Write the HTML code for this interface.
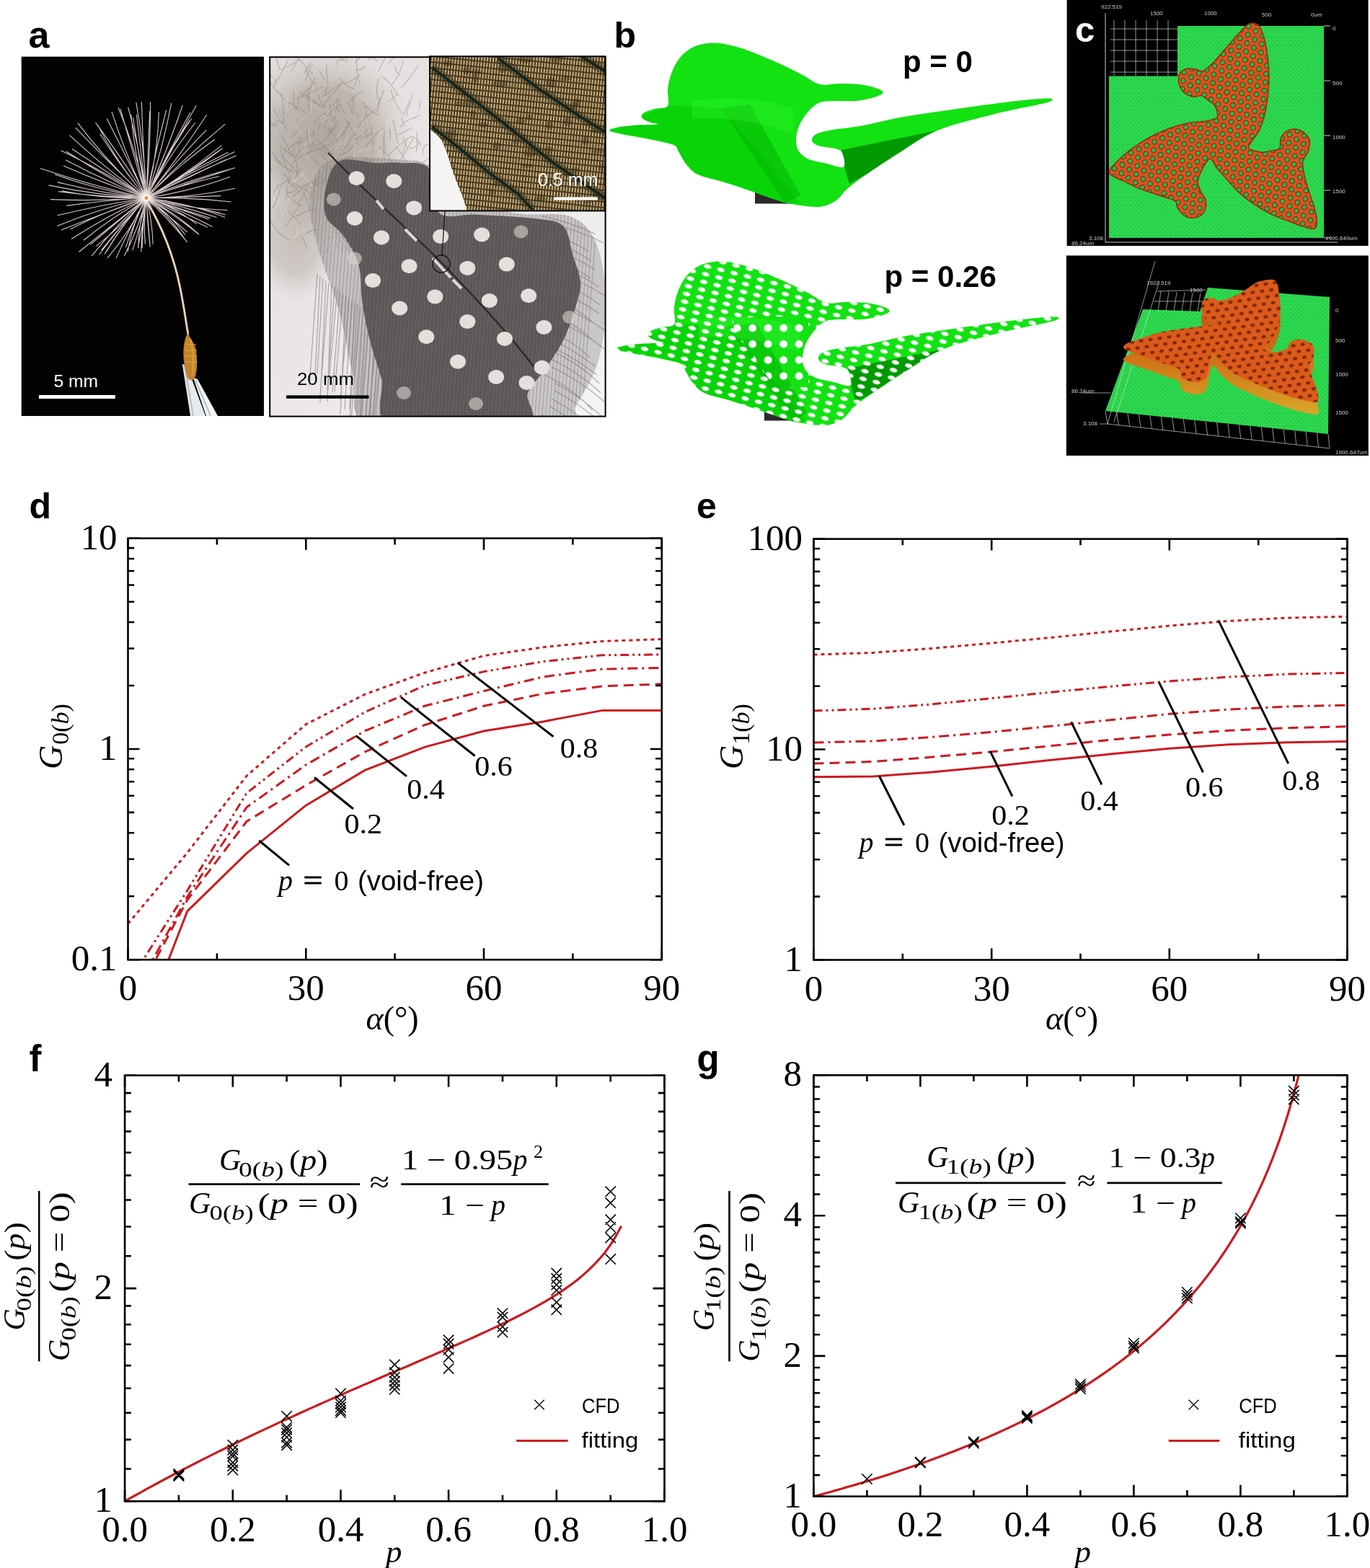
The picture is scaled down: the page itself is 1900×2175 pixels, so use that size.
<!DOCTYPE html><html><head><meta charset="utf-8"><style>html,body{margin:0;padding:0;background:#fff}svg{display:block}</style></head><body>
<svg width="1900" height="2175" viewBox="0 0 1900 2175">
<rect width="1900" height="2175" fill="#fff"/>
<rect x="29.7" y="78.6" width="336.3" height="498.4" fill="#020202"/>
<defs><radialGradient id="glow"><stop offset="0" stop-color="#fff8f0"/><stop offset="0.4" stop-color="#f0e4e0" stop-opacity="0.7"/><stop offset="1" stop-color="#000" stop-opacity="0"/></radialGradient></defs>
<path d="M203 274.5Q141.8 273.7 81.1 265.6M203 274.5Q134.5 271.1 67.4 256.9M203 274.5Q140.5 268.2 79.7 252.6M203 274.5Q138.1 264.4 76.3 242M203 274.5Q128.3 258 55.8 233.4M203 274.5Q144.6 254.6 88.1 229.9M203 274.5Q145.9 250.7 91.1 221.9M203 274.5Q145.5 238.5 84.5 208.8M203 274.5Q145.9 244.8 91.7 210M203 274.5Q151.5 240.5 99.9 206.5M203 274.5Q146.9 234.5 96.5 187.6M203 274.5Q152.3 227.4 104.7 177.2M203 274.5Q150.4 227 107.7 170.4M203 274.5Q168 232.2 138.7 185.8M203 274.5Q163.6 227.8 135.5 173.6M203 274.5Q170.4 220.5 132.5 170.1M203 274.5Q176.2 219.2 148.2 164.5M203 274.5Q174.9 216.3 154.9 154.8M203 274.5Q184.5 212.7 166.8 150.6M203 274.5Q189.3 210.1 164 149.3M203 274.5Q187 217.6 181.8 158.7M203 274.5Q194.7 210.7 177.6 148.7M203 274.5Q192.9 218.9 184.6 163M203 274.5Q196.1 216.7 189.4 158.9M203 274.5Q200.6 207.7 188.8 141.9M203 274.5Q198.1 208 196.3 141.3M203 274.5Q205.4 214.4 207.7 154.3M203 274.5Q208.5 208 208.6 141.4M203 274.5Q218.4 215.9 220.4 155.3M203 274.5Q214.7 213 230.6 152.5M203 274.5Q224.8 210 237.6 143.1M203 274.5Q230.8 211.5 253.2 146.3M203 274.5Q227.2 219.1 247.8 162.3M203 274.5Q236.4 209.8 272.2 146.3M203 274.5Q231.5 214.3 263.9 156.1M203 274.5Q227.9 217.5 263.7 166.5M203 274.5Q229.9 216.8 265.8 164.3M203 274.5Q232 219 271 170M203 274.5Q247.6 218.9 286.7 159.3M203 274.5Q242.1 225.2 286.3 180.4M203 274.5Q254.4 219.9 312.3 172.2M203 274.5Q246.7 229.4 298 193.2M203 274.5Q258 241.9 307.5 201.6M203 274.5Q258.6 244.5 308.6 205.8M203 274.5Q255.6 243.2 305.6 207.8M203 274.5Q262.8 239.7 325.4 210.4M203 274.5Q258.1 239.7 316.6 211.3M203 274.5Q264.1 242.5 327.7 215.7M203 274.5Q257.8 247.4 313.2 221.4M203 274.5Q262.8 249.1 325.8 232.8M203 274.5Q263.3 253.1 324.1 233.2M203 274.5Q252.6 256.3 304 244.5M203 274.5Q262.6 266.1 319.1 245.2M203 274.5Q265.2 274.4 325.9 261.2M203 274.5Q254.5 273.7 305.9 271.6M203 274.5Q262 273.7 320.7 280M203 274.5Q258.3 289.4 315.5 291.5M203 274.5Q258.5 283.6 313 298M203 274.5Q255 283.2 306.2 295.8M203 274.5Q259.2 281.2 312.1 301.4M203 274.5Q252.2 286.3 300.5 301.4M203 274.5Q246.6 289.1 289.9 304.3M203 274.5Q247.4 288.5 291.8 302.5M203 274.5Q250.5 290.7 294.6 314.6M203 274.5Q245.3 294.9 287.7 315.2M203 274.5Q241.2 286.6 272.9 310.9M203 274.5Q241.3 297.2 275.9 325.3M203 274.5Q242.4 294.7 275.3 324.4M203 274.5Q232.3 297.3 259.9 322.2M203 274.5Q234.4 295.4 256.9 325.6M203 274.5Q233.7 297.4 254.7 329.4M203 274.5Q233.3 303.3 259.6 335.8M203 274.5Q211.2 306.1 212.1 338.7M203 274.5Q204.2 306.9 207.8 339.1M203 274.5Q205.2 308.6 208.2 342.6M203 274.5Q198.7 306.5 201.4 338.6M203 274.5Q197.8 309.1 197.1 344.2M203 274.5Q196.4 311.8 195.8 349.6M203 274.5Q192.2 308.4 191.8 344M203 274.5Q198.7 309.1 191.4 343.2M203 274.5Q195.7 311.4 183.8 347.1M203 274.5Q183.7 309.4 177.1 348.8M203 274.5Q192.3 316.4 172.4 354.8M203 274.5Q185.7 307.7 174.3 343.3M203 274.5Q180.2 315.3 161.1 357.9M203 274.5Q181.3 319.8 148.9 358.1M203 274.5Q171.4 309.2 147.4 349.4M203 274.5Q169.7 310.3 145.1 352.6M203 274.5Q170.5 309.5 140.8 346.9M203 274.5Q167.7 311.9 137.3 353.5M203 274.5Q161.8 311.8 127 355.1M203 274.5Q171.6 311.6 133.3 341.4M203 274.5Q164 306.6 125.5 339.1M203 274.5Q156.1 312 109.3 349.5M203 274.5Q156.9 300 116 333.3M203 274.5Q148.9 299.3 99 331.5M203 274.5Q148.5 291.9 97.5 317.7M203 274.5Q143.5 295.7 84.9 319.1M203 274.5Q139.5 288.7 79.2 313.4M203 274.5Q140.8 284.1 79.6 298.8M203 274.5Q147.4 277.3 92.3 285.4M203 274.5Q136.5 279.4 69.9 276.6M203 274.5Q143.8 276.1 85.7 264.7" stroke="#ecdede" stroke-width="1.1" stroke-opacity="0.9" fill="none"/>
<circle cx="203" cy="274.5" r="22" fill="url(#glow)" opacity="0.8"/>
<circle cx="203" cy="274.5" r="5" fill="#fffaf4"/>
<circle cx="203" cy="274.5" r="2.5" fill="#d89050"/>
<path d="M204 280C222 310 240 350 250 400C255 425 257 440 261 465" stroke="#e8d4b8" stroke-width="2.8" fill="none"/>
<path d="M252.8 505L259 507L285 577L264 577Z" fill="#e4eaee"/><path d="M268 524L274 526L302 577L286 577Z" fill="#f2f6f8"/>
<path d="M256 507L268 577M271 527L292 577" stroke="#b8c0c4" stroke-width="2" fill="none"/>
<path d="M260 462C263 468 268 474 271 482C274 495 274 512 271 522C268 529 263 529 260 524C256 512 253 494 255 479C256 472 258 466 260 462Z" fill="#c0842a"/>
<path d="M258 478L272 478M257 486L273 486M257 494L273 494M257 502L273 502" stroke="#e0a848" stroke-width="1.6" opacity="0.7"/>
<path d="M264 470C268 485 269 505 267 522" stroke="#dca040" stroke-width="2.5" fill="none" opacity="0.8"/>
<rect x="54" y="548" width="105.8" height="5" fill="#fff"/>
<text x="74.5" y="536.8" font-family="'Liberation Sans',Arial,sans-serif" font-size="24" fill="#fff" textLength="61.5" lengthAdjust="spacingAndGlyphs">5 mm</text>
<defs><linearGradient id="fbg" x1="0" y1="0" x2="1" y2="1"><stop offset="0" stop-color="#e2dddd"/><stop offset="0.5" stop-color="#ebe7e7"/><stop offset="1" stop-color="#f6f4f4"/></linearGradient><radialGradient id="fluff" cx="0.5" cy="0.5" r="0.5"><stop offset="0" stop-color="#a49a90"/><stop offset="0.55" stop-color="#b2aaa2" stop-opacity="0.9"/><stop offset="1" stop-color="#c8c2bc" stop-opacity="0"/></radialGradient><clipPath id="fclip"><rect x="375" y="80" width="464" height="497"/></clipPath></defs>
<rect x="375" y="80" width="464" height="497" fill="url(#fbg)"/>
<g clip-path="url(#fclip)">
<ellipse cx="450" cy="200" rx="125" ry="140" fill="url(#fluff)" opacity="0.85"/>
<ellipse cx="410" cy="330" rx="60" ry="90" fill="url(#fluff)" opacity="0.5"/>
<path d="M504 265Q492 254 479 240M380 120Q384 117 381 108M441 180Q442 170 453 165M448 147Q460 131 473 117M466 93Q465 84 472 81M452 132Q449 123 456 120M404 99Q409 90 414 81M418 214Q432 214 433 205M539 215Q553 200 569 190M488 345Q476 334 473 321M493 192Q508 186 513 175M470 345Q464 338 471 332M392 227Q383 223 378 211M569 206Q580 204 581 197M507 164Q511 153 503 141M403 274Q396 272 398 262M426 346Q422 333 418 328M544 117Q557 100 559 83M451 181Q461 173 466 161M450 229Q457 224 464 222M422 325Q433 319 440 318M383 175Q374 173 373 162M401 206Q417 192 435 186M466 238Q461 228 463 224M455 117Q452 102 453 90M513 231Q520 230 527 226M490 160Q485 150 483 142M572 166Q572 165 583 159M523 147Q524 146 527 135M511 84Q515 76 529 77M559 161Q565 146 573 131M568 237Q561 218 550 204M496 252Q498 233 509 224M413 244Q413 238 417 233M555 176Q563 166 577 162M561 175Q559 171 557 163M403 237Q409 215 421 204M413 281Q421 276 422 266M403 203Q416 196 422 196M475 330Q469 308 462 294M468 293Q473 274 487 259M486 349Q476 342 477 338M556 122Q573 104 580 90M506 337Q512 331 514 328M406 260Q400 253 399 250M492 193Q499 194 509 187M491 123Q479 121 471 108M481 282Q485 282 492 275M457 183Q457 176 446 175M422 263Q433 260 449 252M430 268Q421 261 401 251M469 199Q468 194 457 177M410 248Q415 231 409 222M492 87Q506 74 517 65M424 279Q425 277 434 269M455 234Q442 232 433 218M555 105Q547 99 549 92M434 115Q430 107 423 95M436 169Q444 161 451 156M451 148Q443 144 443 131M394 169Q392 146 390 129M493 97Q499 98 507 92M524 85Q511 76 508 73M551 187Q566 181 571 177M448 334Q456 332 461 328M470 286Q461 280 459 272M425 158Q418 149 407 147M435 258Q440 244 455 239M380 269Q379 265 387 256M402 243Q393 225 389 206M405 274Q420 259 438 251M448 148Q431 142 416 128M411 217Q401 215 388 202M541 265Q535 249 536 239M523 267Q534 249 552 240M580 153Q585 145 581 140M539 141Q548 133 551 131M478 157Q473 146 467 137M497 250Q502 236 519 220M456 184Q463 180 468 174M409 152Q407 140 407 124M377 235Q365 224 353 219M408 219Q404 211 409 204M524 255Q527 244 526 242M432 203Q438 188 434 181M539 88Q546 80 560 60M495 179Q503 164 521 152M457 155Q469 146 474 145M471 270Q467 256 473 249M524 327Q529 315 543 295M524 273Q533 264 534 253M561 296Q570 283 571 275M552 199Q548 178 545 166M454 181Q463 180 469 168M454 208Q449 203 441 199M492 250Q489 243 498 239M512 255Q506 239 498 230M394 138Q378 119 368 109M540 270Q553 258 568 251M558 213Q563 202 564 192M558 157Q545 141 542 124M408 240Q389 230 381 219M494 188Q486 178 478 164M473 156Q465 151 467 137M478 85Q466 75 447 66M451 112Q444 100 443 99M397 313Q409 296 416 283M378 175Q384 167 396 156M508 192Q510 185 518 185M453 128Q459 127 471 117M381 117Q390 104 400 82M395 173Q382 166 380 148M464 219Q449 201 438 192M475 209Q485 199 491 184M545 249Q546 236 538 215M568 260Q581 248 602 242M469 218Q484 211 496 197M412 153Q410 144 401 143M421 286Q410 284 405 276M409 261Q425 257 433 251M533 222Q531 208 532 188M403 191Q412 183 414 182M507 205Q514 191 533 176M490 295Q483 283 482 261M444 263Q446 254 458 242M557 268Q568 252 576 240M392 255Q403 245 404 247M471 270Q481 268 494 257M464 299Q470 284 470 266M415 267Q406 256 393 240M495 285Q500 274 514 264M498 163Q495 159 486 146M480 246Q476 232 471 227M432 254Q442 254 462 242M516 255Q535 249 548 244M489 313Q482 301 477 300M424 112Q425 102 434 89M523 156Q527 137 533 124M471 85Q486 75 496 67M416 310Q410 304 399 293M415 158Q415 144 413 133M498 311Q506 309 514 295M546 230Q541 217 525 203M533 269Q537 255 540 237M499 116Q493 99 495 77M551 308Q547 300 548 295M535 212Q532 194 533 181M473 329Q482 327 497 317M414 242Q406 231 391 217M475 350Q475 339 468 321M391 219Q397 210 395 204M491 150Q489 137 488 131M566 207Q560 198 559 190M415 136Q426 132 447 120M552 133Q542 113 529 106M586 215Q585 203 594 199M467 333Q470 329 463 317M517 327Q525 316 529 295M490 319Q493 307 496 287M398 182Q394 170 390 168M414 215Q415 206 416 189M577 211Q579 201 578 183M398 268Q407 267 411 263M554 225Q561 214 573 192M469 193Q476 186 486 169M397 276Q397 259 403 243M485 141Q494 131 503 126M389 97Q384 88 383 77M378 108Q369 99 352 89M517 227Q515 224 503 218M391 96Q405 90 416 82M422 101Q429 93 431 86M458 167Q457 167 450 156M414 137Q427 123 439 114M429 290Q427 283 422 267M545 241Q543 237 533 232M528 160Q519 159 508 147M541 193Q542 183 540 179M461 215Q444 212 435 199M561 278Q559 270 552 268M450 150Q439 144 423 130M451 171Q457 162 464 142M452 352Q449 349 459 342M467 175Q458 164 457 144M430 207Q427 196 425 180M527 308Q526 293 521 279M565 161Q562 157 570 142M406 302Q424 293 439 289M378 289Q388 269 391 254M516 206Q519 196 514 177M572 240Q586 225 599 216M525 99Q533 78 545 67M490 325Q499 323 506 317M404 218Q400 202 390 188M556 274Q563 272 569 260M524 138Q521 120 525 109M501 315Q497 301 496 288M467 224Q473 222 489 217M465 157Q469 141 473 137M586 236Q598 226 607 222M470 117Q489 115 500 103M455 226Q445 213 445 212M477 190Q476 184 485 168M451 311Q461 293 467 276M412 221Q428 208 449 206M452 285Q473 270 485 266M480 86Q483 64 497 51M426 140Q427 122 437 108M453 248Q451 235 455 231M451 195Q450 193 461 181M479 347Q490 335 509 325M561 287Q572 276 584 269M493 119Q493 106 500 104M434 103Q419 88 410 75M489 262Q494 255 506 249M402 333Q383 324 375 305M429 154Q427 140 430 134M584 203Q581 191 569 189M445 134Q455 130 457 130" stroke="#7a6e64" stroke-width="1.3" stroke-opacity="0.35" fill="none"/>
<path d="M457 208l16 -13M486 286l13 -7M419 186l-15 -21M443 152l-9 -8M389 145l-5 -13M375 129l16 -14M462 232l11 -14M451 180l12 -11M520 94l1 -10M525 155l13 -9M501 324l-2 -13M389 282l-17 -11M373 238l-17 -18M503 83l-7 -23M375 288l-21 -17M537 178l3 -20M443 202l13 -5M469 239l-12 -24M486 212l8 -12M550 217l6 -20M445 170l20 -14M491 217l2 -20M448 245l-1 -13M355 133l-14 -17M454 156l22 -19M396 260l16 -13M356 290l12 -12M459 280l-1 -30M496 76l20 -18M538 237l26 -11M455 291l7 -16M429 199l-1 -20M495 211l24 -9M546 162l20 -19M468 192l7 -14M429 145l6 -28M414 161l3 -18M514 184l-7 -22M524 278l19 -8M446 296l3 -13M482 235l-6 -17M442 265l-15 -14M507 114l6 -22M487 318l1 -21M392 145l-5 -14M470 301l-3 -21M524 211l12 -9M375 172l-11 -28M424 324l-7 -9M510 141l-14 -11M355 249l-10 -10M560 174l-10 -13M393 297l10 -25M493 117l15 -19M460 112l17 -17M487 184l8 -6M464 100l3 -29M386 167l19 -20M398 154l0 -19M445 137l-3 -21M406 254l19 -19M375 205l-9 -13M512 287l4 -11M513 170l21 -16M503 191l-1 -28M476 207l5 -19M553 145l6 -29M368 194l9 -15M395 288l-6 -28M416 117l-13 -12M380 265l8 -26M537 184l-0 -22M523 203l5 -26M486 269l25 -9M420 202l20 -12M510 75l16 -10M489 262l3 -20M473 253l9 -20M377 320l5 -10M359 271l-8 -23M519 207l17 -13M431 157l2 -21M445 316l6 -29M387 167l-9 -10M457 167l-10 -9M340 187l10 -24M464 209l11 -12M440 129l-9 -12M554 285l5 -16M385 230l-22 -17M345 135l-0 -22M455 227l24 -12M407 330l12 -11M354 120l3 -29M458 287l8 -12M411 330l2 -26M457 256l-3 -13M516 193l3 -12M383 188l-1 -11M538 295l-3 -15M477 268l-5 -9M420 140l-15 -19M504 241l10 -8M346 250l10 -9M391 300l-5 -29M488 341l2 -14M418 218l9 -13M531 143l-3 -15M415 169l10 -7M365 197l-10 -23M379 280l4 -16M432 226l-16 -22M411 307l-15 -15M400 278l-4 -11M435 260l-16 -18M440 287l22 -12M543 116l-10 -12M556 226l8 -15M369 264l8 -13M495 141l6 -12" stroke="#e8e2dc" stroke-width="1.2" stroke-opacity="0.35" fill="none"/>
<path d="M460 222C481.7 214 536.7 220.3 560 222C583.3 223.7 576.7 220.3 600 232C623.3 243.7 668.3 280.7 700 292C731.7 303.3 768.7 292 790 300C811.3 308 819.7 320 828 340C836.3 360 839.7 393.3 840 420C840.3 446.7 836.7 476.7 830 500C823.3 523.3 810 545 800 560C790 575 816.7 585 770 590C723.3 595 566.7 601.7 520 590C473.3 578.3 498.3 546.7 490 520C481.7 493.3 478.3 460 470 430C461.7 400 446.7 366.7 440 340C433.3 313.3 426.7 289.7 430 270C433.3 250.3 438.3 230 460 222Z" fill="#9a9494" opacity="0.45"/>
<path d="M752 300q40 8 74 25M765 311q40 9 72 26M751 322q40 9 65 27M753 333q40 10 67 29M756 344q40 10 69 30M751 355q40 11 68 31M763 366q40 12 67 32M767 377q40 12 71 33M764 388q40 13 68 35M759 399q40 13 72 36M757 410q40 14 65 37M767 421q40 15 73 38M756 432q40 15 65 39M767 443q40 16 71 41M751 454q40 16 67 42M752 465q40 17 73 43M754 476q40 18 74 44M765 487q40 18 66 45M764 498q40 19 69 47M765 509q40 19 73 48M756 520q40 20 66 49M769 531q40 21 69 50M769 542q40 21 72 51M765 553q40 22 73 53M763 564q40 22 70 54M751 575q40 23 72 55M440 380l-11 156M444 383l-7 136M448 386l-8 132M452 389l-8 170M456 392l-12 157M460 395l-6 162M464 398l-10 142M468 401l-14 148M472 404l-11 140M476 407l-12 137M480 410l-8 164M484 413l-12 142M488 416l-10 152M492 419l-7 148M496 422l-12 174M500 425l-13 158M504 428l-11 171M508 431l-10 168M512 434l-13 163M516 437l-9 153M520 440l-8 172M524 443l-13 144M528 446l-11 140M532 449l-14 144M536 452l-12 165M540 455l-10 136M544 458l-11 153M548 461l-11 138M552 464l-13 131M556 467l-6 168" stroke="#6a6464" stroke-width="1.2" stroke-opacity="0.5" fill="none"/>
<path d="M470.7 223.4C482.2 217.6 506.9 225.6 521 226C535.1 226.4 543.1 224.7 555.5 226C567.9 227.3 586.4 222.5 595.3 234C604.1 245.5 597.5 284.4 608.6 295C619.7 305.6 639.5 296.4 661.6 297.7C683.7 299 721.1 300.4 741 303C760.9 305.6 772.1 305.2 781 313.6C789.9 322 790.2 340.1 794.2 353.3C798.2 366.5 804.7 379.8 805 393C805.3 406.2 800 419.5 796 432.8C792 446.1 787.7 459.3 781 472.6C774.3 485.9 764.2 500.3 756 512.4C747.8 524.5 737.2 532.1 732 545C726.8 557.9 756.2 582.5 725 590C693.8 597.5 577.7 600.7 545 590C512.3 579.3 534.3 545.2 529 525.6C523.7 506 517.5 490.3 513.1 472.6C508.7 454.9 505.1 437.3 502.5 419.6C499.9 401.9 501.6 382.1 497.2 366.6C492.8 351.1 483.5 337.9 476 326.8C468.5 315.8 456 311.3 452 300.3C448 289.3 448.9 273.4 452 260.6C455.1 247.8 459.2 229.2 470.7 223.4Z" fill="#5c5757"/>
<clipPath id="vclip"><path d="M460 222C481.7 214 536.7 220.3 560 222C583.3 223.7 576.7 220.3 600 232C623.3 243.7 668.3 280.7 700 292C731.7 303.3 768.7 292 790 300C811.3 308 819.7 320 828 340C836.3 360 839.7 393.3 840 420C840.3 446.7 836.7 476.7 830 500C823.3 523.3 810 545 800 560C790 575 816.7 585 770 590C723.3 595 566.7 601.7 520 590C473.3 578.3 498.3 546.7 490 520C481.7 493.3 478.3 460 470 430C461.7 400 446.7 366.7 440 340C433.3 313.3 426.7 289.7 430 270C433.3 250.3 438.3 230 460 222Z"/></clipPath>
<path d="M440 210l-30 390M445 210l-30 390M450 210l-30 390M455 210l-30 390M460 210l-30 390M465 210l-30 390M470 210l-30 390M475 210l-30 390M480 210l-30 390M485 210l-30 390M490 210l-30 390M495 210l-30 390M500 210l-30 390M505 210l-30 390M510 210l-30 390M515 210l-30 390M520 210l-30 390M525 210l-30 390M530 210l-30 390M535 210l-30 390M540 210l-30 390M545 210l-30 390M550 210l-30 390M555 210l-30 390M560 210l-30 390M565 210l-30 390M570 210l-30 390M575 210l-30 390M580 210l-30 390M585 210l-30 390M590 210l-30 390M595 210l-30 390M600 210l-30 390M605 210l-30 390M610 210l-30 390M615 210l-30 390M620 210l-30 390M625 210l-30 390M630 210l-30 390M635 210l-30 390M640 210l-30 390M645 210l-30 390M650 210l-30 390M655 210l-30 390M660 210l-30 390M665 210l-30 390M670 210l-30 390M675 210l-30 390M680 210l-30 390M685 210l-30 390M690 210l-30 390M695 210l-30 390M700 210l-30 390M705 210l-30 390M710 210l-30 390M715 210l-30 390M720 210l-30 390M725 210l-30 390M730 210l-30 390M735 210l-30 390M740 210l-30 390M745 210l-30 390M750 210l-30 390M755 210l-30 390M760 210l-30 390M765 210l-30 390M770 210l-30 390M775 210l-30 390M780 210l-30 390M785 210l-30 390M790 210l-30 390M795 210l-30 390M800 210l-30 390M805 210l-30 390M810 210l-30 390M815 210l-30 390M820 210l-30 390M825 210l-30 390M830 210l-30 390M835 210l-30 390" stroke="#7c7676" stroke-width="1.2" opacity="0.45" fill="none" clip-path="url(#vclip)"/>
<path d="M455 212C520 280 580 330 620 372C670 425 712 470 745 515" stroke="#2a2626" stroke-width="2.2" fill="none"/>
<path d="M522 278L532 290M562 318L578 334M600 358L625 385M628 388L640 400" stroke="#ece8e4" stroke-width="4" opacity="0.9"/>
<ellipse cx="494.6" cy="247.3" rx="11" ry="10" fill="#e4dfdc"/>
<ellipse cx="546.3" cy="251.3" rx="11" ry="10" fill="#e4dfdc"/>
<ellipse cx="574.1" cy="288.4" rx="11" ry="10" fill="#e4dfdc"/>
<ellipse cx="491.9" cy="303" rx="11" ry="10" fill="#e4dfdc"/>
<ellipse cx="529" cy="329.5" rx="11" ry="10" fill="#e4dfdc"/>
<ellipse cx="611.2" cy="328.1" rx="11" ry="10" fill="#e4dfdc"/>
<ellipse cx="668.2" cy="325.5" rx="11" ry="10" fill="#e4dfdc"/>
<ellipse cx="567.5" cy="369.2" rx="11" ry="10" fill="#e4dfdc"/>
<ellipse cx="648.3" cy="371.9" rx="11" ry="10" fill="#e4dfdc"/>
<ellipse cx="702.7" cy="366.6" rx="11" ry="10" fill="#e4dfdc"/>
<ellipse cx="517.1" cy="389.1" rx="11" ry="10" fill="#e4dfdc"/>
<ellipse cx="603.3" cy="411.6" rx="11" ry="10" fill="#e4dfdc"/>
<ellipse cx="678.8" cy="417" rx="11" ry="10" fill="#e4dfdc"/>
<ellipse cx="733.1" cy="410.3" rx="11" ry="10" fill="#e4dfdc"/>
<ellipse cx="554.2" cy="427.5" rx="11" ry="10" fill="#e4dfdc"/>
<ellipse cx="648.3" cy="446.1" rx="11" ry="10" fill="#e4dfdc"/>
<ellipse cx="754.4" cy="454" rx="11" ry="10" fill="#e4dfdc"/>
<ellipse cx="591.3" cy="467.3" rx="11" ry="10" fill="#e4dfdc"/>
<ellipse cx="700" cy="470" rx="11" ry="10" fill="#e4dfdc"/>
<ellipse cx="635" cy="501.8" rx="11" ry="10" fill="#e4dfdc"/>
<ellipse cx="751.7" cy="509.7" rx="11" ry="10" fill="#e4dfdc"/>
<ellipse cx="688.1" cy="523" rx="11" ry="10" fill="#e4dfdc"/>
<ellipse cx="730.5" cy="531" rx="11" ry="10" fill="#e4dfdc"/>
<ellipse cx="492" cy="358.6" rx="10" ry="9" fill="#d8d2d0" opacity="0.6"/>
<ellipse cx="462.8" cy="276.5" rx="10" ry="9" fill="#d8d2d0" opacity="0.6"/>
<ellipse cx="722.5" cy="321.5" rx="10" ry="9" fill="#d8d2d0" opacity="0.6"/>
<ellipse cx="790" cy="440" rx="10" ry="9" fill="#d8d2d0" opacity="0.6"/>
<ellipse cx="560" cy="545" rx="10" ry="9" fill="#d8d2d0" opacity="0.6"/>
<ellipse cx="660" cy="560" rx="10" ry="9" fill="#d8d2d0" opacity="0.6"/>
</g>
<circle cx="612" cy="366" r="12" fill="none" stroke="#111" stroke-width="1.3"/>
<line x1="613" y1="355" x2="617" y2="293" stroke="#111" stroke-width="1.2"/>
<rect x="374.2" y="79.2" width="465.4" height="498.4" fill="none" stroke="#000" stroke-width="2"/>
<rect x="397" y="548.4" width="114.5" height="4.4" fill="#000"/>
<text x="412" y="534" font-family="'Liberation Sans',Arial,sans-serif" font-size="24" fill="#000" textLength="79" lengthAdjust="spacingAndGlyphs">20 mm</text>
<defs><pattern id="barb" width="4" height="8" patternUnits="userSpaceOnUse" patternTransform="rotate(6)"><rect width="4" height="8" fill="#4a3a1e"/><rect x="0" y="0" width="2" height="6" fill="#c8b080"/></pattern><clipPath id="iclip"><rect x="596" y="78" width="244" height="215"/></clipPath></defs>
<g clip-path="url(#iclip)">
<rect x="596" y="78" width="244" height="215" fill="url(#barb)"/>
<ellipse cx="620" cy="231" rx="10" ry="5" fill="#2e2414" opacity="0.35"/>
<ellipse cx="626" cy="183" rx="7" ry="4" fill="#2e2414" opacity="0.35"/>
<ellipse cx="729" cy="82" rx="10" ry="6" fill="#2e2414" opacity="0.35"/>
<ellipse cx="749" cy="276" rx="8" ry="4" fill="#2e2414" opacity="0.35"/>
<ellipse cx="659" cy="109" rx="4" ry="6" fill="#2e2414" opacity="0.35"/>
<ellipse cx="800" cy="142" rx="5" ry="6" fill="#2e2414" opacity="0.35"/>
<ellipse cx="801" cy="275" rx="5" ry="6" fill="#2e2414" opacity="0.35"/>
<ellipse cx="798" cy="236" rx="6" ry="4" fill="#2e2414" opacity="0.35"/>
<ellipse cx="796" cy="147" rx="6" ry="5" fill="#2e2414" opacity="0.35"/>
<ellipse cx="688" cy="255" rx="5" ry="3" fill="#2e2414" opacity="0.35"/>
<ellipse cx="735" cy="212" rx="9" ry="6" fill="#2e2414" opacity="0.35"/>
<ellipse cx="815" cy="278" rx="7" ry="5" fill="#2e2414" opacity="0.35"/>
<ellipse cx="637" cy="143" rx="7" ry="3" fill="#2e2414" opacity="0.35"/>
<ellipse cx="764" cy="114" rx="7" ry="7" fill="#2e2414" opacity="0.35"/>
<ellipse cx="621" cy="88" rx="7" ry="4" fill="#2e2414" opacity="0.35"/>
<ellipse cx="772" cy="81" rx="9" ry="6" fill="#2e2414" opacity="0.35"/>
<ellipse cx="787" cy="169" rx="6" ry="6" fill="#2e2414" opacity="0.35"/>
<ellipse cx="722" cy="168" rx="6" ry="5" fill="#2e2414" opacity="0.35"/>
<ellipse cx="759" cy="253" rx="9" ry="4" fill="#2e2414" opacity="0.35"/>
<ellipse cx="670" cy="173" rx="7" ry="4" fill="#2e2414" opacity="0.35"/>
<ellipse cx="647" cy="98" rx="6" ry="5" fill="#2e2414" opacity="0.35"/>
<ellipse cx="831" cy="271" rx="9" ry="7" fill="#2e2414" opacity="0.35"/>
<ellipse cx="829" cy="210" rx="9" ry="3" fill="#2e2414" opacity="0.35"/>
<ellipse cx="761" cy="208" rx="6" ry="5" fill="#2e2414" opacity="0.35"/>
<ellipse cx="827" cy="181" rx="8" ry="4" fill="#2e2414" opacity="0.35"/>
<ellipse cx="682" cy="266" rx="4" ry="4" fill="#2e2414" opacity="0.35"/>
<ellipse cx="762" cy="174" rx="5" ry="6" fill="#2e2414" opacity="0.35"/>
<ellipse cx="689" cy="202" rx="6" ry="5" fill="#2e2414" opacity="0.35"/>
<ellipse cx="734" cy="163" rx="5" ry="4" fill="#2e2414" opacity="0.35"/>
<ellipse cx="812" cy="195" rx="5" ry="6" fill="#2e2414" opacity="0.35"/>
<ellipse cx="660" cy="100" rx="7" ry="4" fill="#2e2414" opacity="0.35"/>
<ellipse cx="716" cy="196" rx="5" ry="5" fill="#2e2414" opacity="0.35"/>
<ellipse cx="627" cy="188" rx="8" ry="3" fill="#2e2414" opacity="0.35"/>
<ellipse cx="697" cy="95" rx="7" ry="6" fill="#2e2414" opacity="0.35"/>
<ellipse cx="731" cy="230" rx="9" ry="3" fill="#2e2414" opacity="0.35"/>
<ellipse cx="836" cy="232" rx="5" ry="6" fill="#2e2414" opacity="0.35"/>
<ellipse cx="693" cy="116" rx="10" ry="5" fill="#2e2414" opacity="0.35"/>
<ellipse cx="784" cy="109" rx="9" ry="3" fill="#2e2414" opacity="0.35"/>
<ellipse cx="656" cy="158" rx="4" ry="5" fill="#2e2414" opacity="0.35"/>
<ellipse cx="651" cy="143" rx="8" ry="5" fill="#2e2414" opacity="0.35"/>
<path d="M599 93.5L691 164.9L766.6 225.3L840.7 276M691 81L746 122.3L800.9 159.4L840.7 184M599 175.8L636.2 204.7L677.4 239L718.5 269.2L739 291M806 78L841 100" stroke="#3a3420" stroke-width="12" stroke-opacity="0.45" fill="none"/>
<path d="M599 93.5L691 164.9L766.6 225.3L840.7 276M691 81L746 122.3L800.9 159.4L840.7 184M599 175.8L636.2 204.7L677.4 239L718.5 269.2L739 291M806 78L841 100" stroke="#17261c" stroke-width="4" fill="none"/>
<path d="M595 178.6C602 183 609 189 613 196C619 207 623 222 627 235C632 250 637 262 641 271L648 293L595 293Z" fill="#f7f5f3"/>
</g>
<rect x="596" y="78.2" width="243.4" height="214.2" fill="none" stroke="#000" stroke-width="2"/>
<rect x="768" y="273.4" width="60.7" height="4.2" fill="#fff"/>
<text x="746" y="258" font-family="'Liberation Sans',Arial,sans-serif" font-size="25" fill="#fff">0.5 mm</text>
<defs><path id="sh0" d="M845 181C844.3 179.4 851.3 177.8 858 176.5C864.7 175.2 876 174.2 885 173.5C894 172.8 909.5 173.2 912 172.5C914.5 171.8 903.7 170.6 900 169C896.3 167.4 891.2 165.1 890 163C888.8 160.9 890 158.5 893 156.5C896 154.5 902.5 152.6 908 151C913.5 149.4 923 151.5 926 147C929 142.5 925.2 131.5 926 124C926.8 116.5 928.2 109.3 931 102C933.8 94.7 937.8 86.2 943 80C948.2 73.8 954.2 68.4 962 65C969.8 61.6 980 59.5 990 59.5C1000 59.5 1011.2 62.1 1022 65C1032.8 67.9 1044.5 72.8 1055 77C1065.5 81.2 1075.3 85.5 1085 90C1094.7 94.5 1104.3 99.5 1113 104C1121.7 108.5 1128.3 115 1137 117C1145.7 119 1155.3 115.9 1165 116C1174.7 116.1 1186.5 116.4 1195 117.5C1203.5 118.6 1211 120.7 1216 122.5C1221 124.3 1225 126.5 1224.7 128.5C1224.4 130.5 1220.1 132.6 1214 134.5C1207.9 136.4 1197.8 139.1 1188 140C1178.2 140.9 1163.8 139.5 1155 140C1146.2 140.5 1140.8 140.3 1135 143C1129.2 145.7 1124.5 150.7 1120 156C1115.5 161.3 1110.7 168.5 1108 175C1105.3 181.5 1104 189.2 1104 195C1104 200.8 1105 205.7 1108 210C1111 214.3 1115.5 218.2 1122 221C1128.5 223.8 1139 225.2 1147 227C1155 228.8 1166.5 234 1170 231.5C1173.5 229 1170 216.2 1168 212C1166 207.8 1163.3 207.6 1158 206C1152.7 204.4 1141.3 204.3 1136 202.5C1130.7 200.7 1126.7 197.8 1126 195C1125.3 192.2 1127.2 188.5 1132 186C1136.8 183.5 1144.5 181.9 1155 180C1165.5 178.1 1178.5 177.5 1195 174.5C1211.5 171.5 1229.7 166.2 1254 162C1278.3 157.8 1315 152.7 1341 149C1367 145.3 1391.5 142.1 1410 140C1428.5 137.9 1443.8 136.7 1452 136.5C1460.2 136.3 1460.2 137.8 1459 139C1457.8 140.2 1458.2 140.8 1445 144C1431.8 147.2 1404.2 151.8 1380 158C1355.8 164.2 1321.7 172.3 1300 181C1278.3 189.7 1266.7 199.7 1250 210C1233.3 220.3 1212.5 234.3 1200 243C1187.5 251.7 1181.7 256.2 1175 262C1168.3 267.8 1165.8 273.9 1160 278C1154.2 282.1 1147 285.2 1140 286.5C1133 287.8 1127.2 287.1 1118 286C1108.8 284.9 1096.8 283.2 1085 280C1073.2 276.8 1060.3 271.5 1047 267C1033.7 262.5 1018.2 257.2 1005 253C991.8 248.8 976.8 246.2 968 242C959.2 237.8 956.5 233.3 952 228C947.5 222.7 944 214.5 941 210C938 205.5 940.8 203.8 934 201C927.2 198.2 912 195.5 900 193C888 190.5 871.2 188 862 186C852.8 184 845.7 182.6 845 181Z"/><clipPath id="shc0"><use href="#sh0"/></clipPath><clipPath id="shc1"><use href="#sh0" transform="translate(9,303)"/></clipPath><pattern id="holesE" width="19" height="11" patternUnits="userSpaceOnUse" patternTransform="rotate(14)"><ellipse cx="9.5" cy="5.5" rx="5.4" ry="2.9" fill="#fff"/></pattern><pattern id="holesW" width="16" height="8" patternUnits="userSpaceOnUse" patternTransform="rotate(-8)"><ellipse cx="8" cy="4" rx="3.6" ry="1.4" fill="#fff"/></pattern><pattern id="holesC" x="1024" y="141" width="21.5" height="22.2" patternUnits="userSpaceOnUse"><circle cx="10.7" cy="11" r="5.4" fill="#fff"/></pattern><mask id="ffmask" maskUnits="userSpaceOnUse" x="800" y="0" width="700" height="320"><rect x="800" y="0" width="700" height="320" fill="#fff"/><path d="M1008 140Q1060 132 1112 140L1112 234L1066 234Q1030 185 1008 150Z" fill="#000"/></mask></defs>
<rect x="1047" y="266" width="104" height="16.5" fill="#2a2a2a"/>
<rect x="1060" y="567.5" width="103" height="16" fill="#2a2a2a"/>
<g clip-path="url(#shc0)"><rect x="840" y="50" width="640" height="250" fill="#12e212"/>
<path d="M926 146L1000 150L1060 220L1110 282L1090 282L1047 266L1010 254L965 243L950 228L939 207L935 200L900 192L860 185L845 181Z" fill="#00c800" opacity="0.55"/>
<path d="M1171 231L1167 208L1300 181L1232 225L1178 255Z" fill="#009a00"/>
<path d="M1000 150L1040 145L1110 270L1090 282Z" fill="#00b000" opacity="0.5"/>
<path d="M960 140Q1030 130 1100 150L1100 185Q1030 160 960 165Z" fill="#40ff40" opacity="0.25"/>
</g>
<g transform="translate(9,303)" clip-path="url(#shc0)"><rect x="840" y="50" width="640" height="250" fill="#12e212"/>
<path d="M926 146L1000 150L1060 220L1110 282L1090 282L1047 266L1010 254L965 243L950 228L939 207L935 200L900 192L860 185L845 181Z" fill="#00c800" opacity="0.55"/>
<path d="M1171 231L1167 208L1300 181L1232 225L1178 255Z" fill="#009a00"/>
<path d="M1000 150L1040 145L1110 270L1090 282Z" fill="#00b000" opacity="0.5"/>
<path d="M960 140Q1030 130 1100 150L1100 185Q1030 160 960 165Z" fill="#40ff40" opacity="0.25"/>
<rect x="840" y="50" width="640" height="250" fill="url(#holesE)" mask="url(#ffmask)"/>
<path d="M1008 140Q1060 132 1112 140L1112 234L1066 234Q1030 185 1008 150Z" fill="url(#holesC)"/>
</g>
<text x="1252" y="100.2" font-family="'Liberation Sans',Arial,sans-serif" font-weight="bold" font-size="42">p = 0</text>
<text x="1226.5" y="398" font-family="'Liberation Sans',Arial,sans-serif" font-weight="bold" font-size="42">p = 0.26</text>
<rect x="1479.6" y="0" width="418" height="341" fill="#000"/>
<rect x="1478.8" y="354.5" width="419" height="277.5" fill="#000"/>
<defs><pattern id="noise" width="6" height="6" patternUnits="userSpaceOnUse"><rect width="6" height="6" fill="#2cd84e"/><rect x="1" y="2" width="2" height="1" fill="#1c9c38" opacity="0.6"/><rect x="4" y="4" width="1" height="2" fill="#1c9c38" opacity="0.5"/></pattern><pattern id="hexh" width="12" height="20" patternUnits="userSpaceOnUse" patternTransform="rotate(-25)"><rect width="12" height="20" fill="#d8561e"/><circle cx="6" cy="5" r="3.9" fill="#7a2a0c"/><circle cx="6" cy="5" r="2.8" fill="#2cb850"/><circle cx="0" cy="15" r="3.9" fill="#7a2a0c"/><circle cx="0" cy="15" r="2.8" fill="#2cb850"/><circle cx="12" cy="15" r="3.9" fill="#7a2a0c"/><circle cx="12" cy="15" r="2.8" fill="#2cb850"/></pattern><pattern id="hex3" width="13" height="18" patternUnits="userSpaceOnUse" patternTransform="rotate(-8)"><rect width="13" height="18" fill="#dc5a1a"/><ellipse cx="6.5" cy="4.5" rx="3" ry="2.2" fill="#7a2808"/><ellipse cx="0" cy="13.5" rx="3" ry="2.2" fill="#7a2808"/><ellipse cx="13" cy="13.5" rx="3" ry="2.2" fill="#7a2808"/></pattern><linearGradient id="wallg" x1="0" y1="0" x2="0" y2="1"><stop offset="0" stop-color="#c04810"/><stop offset="0.6" stop-color="#d07818"/><stop offset="1" stop-color="#d8a828"/></linearGradient></defs>
<path d="M1545 28V105M1560 28V105M1575 28V105M1590 28V105M1605 28V105M1620 28V105M1540 40H1633M1540 55H1633M1540 70H1633M1540 85H1633M1540 100H1633" stroke="#bbb" stroke-width="0.8" fill="none"/>
<path d="M1538 105.6H1633V36H1836V330H1538Z" fill="url(#noise)"/>
<path d="M1731.8 33.4C1736 31.6 1741 32.1 1744.3 34.3C1747.6 36.5 1749.3 40.8 1751.4 46.8C1753.5 52.7 1755.4 62 1756.8 70C1758.1 78 1759 86.7 1759.5 95C1759.9 103.3 1759.9 111.7 1759.5 120C1759 128.3 1758.1 137 1756.8 145C1755.4 153 1753.5 161.7 1751.4 168.2C1749.3 174.8 1747 179.5 1744.3 184.3C1741.6 189 1737.4 193.2 1735.4 196.8C1733.3 200.4 1729.7 203.3 1731.8 205.7C1733.9 208.1 1742.8 210.5 1747.9 211.1C1752.9 211.7 1757.7 210.2 1762.1 209.3C1766.6 208.4 1772.3 208.7 1774.6 205.7C1777 202.7 1774.3 195.6 1776.4 191.4C1778.5 187.3 1782.7 182.5 1787.1 180.7C1791.6 178.9 1798.5 178.6 1803.2 180.7C1808 182.8 1813.9 188.2 1815.7 193.2C1817.5 198.3 1815.4 206 1813.9 211.1C1812.4 216.1 1807.7 218.5 1806.8 223.6C1805.9 228.6 1807.1 234.3 1808.6 241.4C1810.1 248.6 1813.3 258.7 1815.7 266.4C1818.1 274.2 1821.1 281 1822.9 287.9C1824.6 294.7 1826.4 302.6 1826.4 307.5C1826.4 312.4 1825.8 316.1 1822.9 317.3C1819.9 318.5 1814.2 316.3 1808.6 314.6C1802.9 313 1796.7 310.5 1788.9 307.5C1781.2 304.5 1771.1 301.2 1762.1 296.8C1753.2 292.3 1743.1 286.1 1735.4 280.7C1727.6 275.4 1721.4 270 1715.7 264.6C1710.1 259.3 1706.2 253.9 1701.4 248.6C1696.7 243.2 1691 237.3 1687.1 232.5C1683.3 227.7 1681.5 219.7 1678.2 220C1674.9 220.3 1670.3 228.9 1667.5 234.3C1664.7 239.6 1661.5 246.8 1661.2 252.1C1661 257.5 1663.9 262.3 1665.7 266.4C1667.5 270.6 1671.1 273 1672 277.1C1672.9 281.3 1673 287.4 1671.1 291.4C1669.1 295.4 1664.8 299.8 1660.4 301.2C1655.9 302.7 1648.9 302.6 1644.3 300.4C1639.7 298.1 1635.1 291.4 1632.7 287.9C1630.3 284.3 1633.7 281.6 1630 278.9C1626.3 276.2 1618.1 274.5 1610.4 271.8C1602.6 269.1 1591.9 266.1 1583.6 262.9C1575.2 259.6 1566.9 255.1 1560.4 252.1C1553.8 249.2 1548 247.2 1544.3 245C1540.6 242.8 1538 241.4 1538 238.8C1538 236.1 1539.7 233.8 1544.3 228.9C1548.9 224 1557.7 215.5 1565.7 209.3C1573.8 203 1583.6 196.5 1592.5 191.4C1601.4 186.4 1610.4 182.4 1619.3 178.9C1628.2 175.5 1637.4 172.7 1646.1 170.9C1654.7 169.1 1664.2 169.4 1671.1 168.2C1677.9 167 1684.3 165.8 1687.1 163.8C1690 161.7 1688.6 158.8 1688 155.7C1687.4 152.6 1686.1 148.1 1683.6 145C1681 141.9 1675.8 139 1672.9 137C1669.9 134.9 1668.7 132.9 1665.7 132.5C1662.7 132.1 1659.2 135.2 1655 134.3C1650.8 133.4 1644.1 130.7 1640.7 127.1C1637.3 123.6 1635.1 117.3 1634.5 112.9C1633.9 108.4 1634.9 103.3 1637.1 100.4C1639.4 97.4 1644 95.6 1647.9 95C1651.7 94.4 1656.9 96.2 1660.4 96.8C1663.8 97.4 1664.8 100.1 1668.4 98.6C1672 97.1 1677.5 92 1681.8 87.9C1686.1 83.7 1690.1 78.3 1694.3 73.6C1698.5 68.8 1702.6 64 1706.8 59.3C1711 54.5 1715.1 49.3 1719.3 45C1723.5 40.7 1727.6 35.2 1731.8 33.4Z" fill="url(#hexh)" stroke="#8a3010" stroke-width="1.5"/>
<path d="M1533 18V336M1533 336H1855M1836 36H1845M1836 112H1845M1836 188H1845M1836 264H1845M1836 330H1845" stroke="#ccc" stroke-width="1" fill="none"/>
<g font-family="'Liberation Sans',Arial,sans-serif" font-size="8" fill="#ccc"><text x="1527" y="12">922.519</text><text x="1595" y="21">1500</text><text x="1670" y="21">1000</text><text x="1750" y="23">500</text><text x="1818" y="23">0um</text><text x="1848" y="42">0</text><text x="1848" y="118">500</text><text x="1848" y="193">1000</text><text x="1848" y="268">1500</text><text x="1838" y="333">1900.640um</text><text x="1510" y="333">3.108</text><text x="1486" y="340">86.24um</text></g>
<text x="1491" y="57.6" font-family="'Liberation Sans',Arial,sans-serif" font-weight="bold" font-size="49" fill="#fff">c</text>
<path d="M1675 399L1844 412L1842 602L1533 570L1585 429L1664 432Z" fill="url(#noise)"/>
<path d="M1602 362L1536 588M1608 390L1545 585M1536 588L1844 622M1533 570L1536 588M1842 602L1844 622M1500 545H1540M1525 588H1536M1548.5 571.6L1551.4 589.7M1563.9 573.2L1566.8 591.4M1579.3 574.8L1582.2 593.1M1594.8 576.4L1597.6 594.8M1610.2 578.0L1613.0 596.5M1625.7 579.6L1628.4 598.2M1641.2 581.2L1643.8 599.9M1656.6 582.8L1659.2 601.6M1672.0 584.4L1674.6 603.3M1687.5 586.0L1690.0 605.0M1703.0 587.6L1705.4 606.7M1718.4 589.2L1720.8 608.4M1733.8 590.8L1736.2 610.1M1749.3 592.4L1751.6 611.8M1764.8 594.0L1767.0 613.5M1780.2 595.6L1782.4 615.2M1795.7 597.2L1797.8 616.9M1811.1 598.8L1813.2 618.6M1826.5 600.4L1828.6 620.3M1610 404.0L1606 432.0M1621 404.5L1617 432.0M1632 405.0L1628 432.0M1643 405.5L1639 432.0M1654 406.0L1650 432.0M1665 406.5L1661 432.0M1605 404L1672 402M1600 418L1668 418" stroke="#d8d8d8" stroke-width="0.8" fill="none" opacity="0.85"/>
<path d="M1747.2 407.2C1752.2 406.2 1763.8 402.9 1768.3 406C1772.8 409.1 1772.9 418.7 1774.1 425.9C1775.4 433.1 1776.1 441.9 1775.8 449.3C1775.4 456.8 1774 463.8 1771.8 470.4C1769.5 477.1 1765.5 484.3 1762.4 489.2C1759.3 494.1 1752.8 497 1753 499.7C1753.2 502.5 1758.3 505.4 1763.6 505.6C1768.8 505.8 1780.4 503.2 1784.7 500.9C1789 498.6 1785.8 493.7 1789.4 491.5C1792.9 489.4 1800.5 487.2 1805.8 488C1811 488.8 1818.5 491.7 1821 496.2C1823.5 500.7 1822 510.3 1821 515C1820 519.6 1815.1 519.6 1815.1 524.3C1815.1 529 1819 537.2 1821 543.1C1822.9 548.9 1825.7 554.4 1826.8 559.5C1828 564.6 1830 571.2 1828 573.5C1826.1 575.9 1821.2 574.5 1815.1 573.5C1809.1 572.6 1800.7 570.4 1791.7 567.7C1782.7 565 1771 560.9 1761.2 557.1C1751.5 553.4 1741.7 549.3 1733.1 545.4C1724.5 541.5 1716.3 538 1709.7 533.7C1703 529.4 1697.2 523.6 1693.3 519.6C1689.4 515.7 1688.2 512.2 1686.2 510.3C1684.3 508.3 1683.1 506 1681.5 507.9C1680 509.9 1678 517.3 1676.9 522C1675.7 526.7 1676.1 532.1 1674.5 536C1673 540 1671 543.7 1667.5 545.4C1664 547.2 1658.1 547.4 1653.4 546.6C1648.7 545.8 1642.5 543.7 1639.4 540.7C1636.2 537.8 1638.6 532.1 1634.7 529C1630.8 525.9 1623.3 524.7 1615.9 522C1608.5 519.3 1598 515.3 1590.1 512.6C1582.3 509.9 1574.3 507.7 1569.1 505.6C1563.8 503.4 1559.7 501.7 1558.5 499.7C1557.3 497.8 1558.3 496 1562 493.9C1565.7 491.7 1573.4 489.4 1580.8 486.8C1588.2 484.3 1598 480.8 1606.6 478.6C1615.1 476.5 1623.7 475.3 1632.3 473.9C1640.9 472.6 1649.5 471.4 1658.1 470.4C1666.7 469.5 1678.4 468.9 1683.9 468.1C1689.4 467.3 1690.9 466.3 1690.9 465.7C1690.9 465.2 1686.6 465.4 1683.9 464.6C1681.2 463.8 1677.3 463.2 1674.5 461.1C1671.8 458.9 1668.9 455.2 1667.5 451.7C1666.1 448.2 1665.7 443.3 1666.3 440C1666.9 436.6 1668.5 433.3 1671 431.8C1673.5 430.2 1678.2 430.2 1681.5 430.6C1684.9 431 1687 434.1 1690.9 434.1C1694.8 434.1 1699.5 432.7 1705 430.6C1710.5 428.4 1718.3 424.3 1723.7 421.2C1729.2 418.1 1733.9 414.2 1737.8 411.8C1741.7 409.5 1742.1 408.1 1747.2 407.2Z" fill="url(#wallg)"/>
<path d="M1747.2 390.2C1752.2 389.2 1763.8 385.9 1768.3 389C1772.8 392.1 1772.9 401.7 1774.1 408.9C1775.4 416.1 1776.1 424.9 1775.8 432.3C1775.4 439.8 1774 446.8 1771.8 453.4C1769.5 460.1 1765.5 467.3 1762.4 472.2C1759.3 477.1 1752.8 480 1753 482.7C1753.2 485.5 1758.3 488.4 1763.6 488.6C1768.8 488.8 1780.4 486.2 1784.7 483.9C1789 481.6 1785.8 476.7 1789.4 474.5C1792.9 472.4 1800.5 470.2 1805.8 471C1811 471.8 1818.5 474.7 1821 479.2C1823.5 483.7 1822 493.3 1821 498C1820 502.6 1815.1 502.6 1815.1 507.3C1815.1 512 1819 520.2 1821 526.1C1822.9 531.9 1825.7 537.4 1826.8 542.5C1828 547.6 1830 554.2 1828 556.5C1826.1 558.9 1821.2 557.5 1815.1 556.5C1809.1 555.6 1800.7 553.4 1791.7 550.7C1782.7 548 1771 543.9 1761.2 540.1C1751.5 536.4 1741.7 532.3 1733.1 528.4C1724.5 524.5 1716.3 521 1709.7 516.7C1703 512.4 1697.2 506.6 1693.3 502.6C1689.4 498.7 1688.2 495.2 1686.2 493.3C1684.3 491.3 1683.1 489 1681.5 490.9C1680 492.9 1678 500.3 1676.9 505C1675.7 509.7 1676.1 515.1 1674.5 519C1673 523 1671 526.7 1667.5 528.4C1664 530.2 1658.1 530.4 1653.4 529.6C1648.7 528.8 1642.5 526.7 1639.4 523.7C1636.2 520.8 1638.6 515.1 1634.7 512C1630.8 508.9 1623.3 507.7 1615.9 505C1608.5 502.3 1598 498.3 1590.1 495.6C1582.3 492.9 1574.3 490.7 1569.1 488.6C1563.8 486.4 1559.7 484.7 1558.5 482.7C1557.3 480.8 1558.3 479 1562 476.9C1565.7 474.7 1573.4 472.4 1580.8 469.8C1588.2 467.3 1598 463.8 1606.6 461.6C1615.1 459.5 1623.7 458.3 1632.3 456.9C1640.9 455.6 1649.5 454.4 1658.1 453.4C1666.7 452.5 1678.4 451.9 1683.9 451.1C1689.4 450.3 1690.9 449.3 1690.9 448.7C1690.9 448.2 1686.6 448.4 1683.9 447.6C1681.2 446.8 1677.3 446.2 1674.5 444.1C1671.8 441.9 1668.9 438.2 1667.5 434.7C1666.1 431.2 1665.7 426.3 1666.3 423C1666.9 419.6 1668.5 416.3 1671 414.8C1673.5 413.2 1678.2 413.2 1681.5 413.6C1684.9 414 1687 417.1 1690.9 417.1C1694.8 417.1 1699.5 415.7 1705 413.6C1710.5 411.4 1718.3 407.3 1723.7 404.2C1729.2 401.1 1733.9 397.2 1737.8 394.8C1741.7 392.5 1742.1 391.1 1747.2 390.2Z" fill="url(#hex3)"/>
<g font-family="'Liberation Sans',Arial,sans-serif" font-size="8" fill="#ccc"><text x="1590" y="395">1922.519</text><text x="1650" y="405">1500</text><text x="1852" y="433">0</text><text x="1852" y="475">500</text><text x="1852" y="522">1000</text><text x="1852" y="575">1500</text><text x="1486" y="545">86.24um</text><text x="1502" y="590">3.108</text><text x="1852" y="630">1900.647um</text></g>
<clipPath id="cd"><rect x="177.5" y="746.7" width="740.3" height="584.5"/></clipPath>
<polyline clip-path="url(#cd)" points="226.9,1348.9 259.8,1263.9 342,1183.6 424.3,1117.2 506.5,1068.1 588.8,1036.4 671,1014 753.3,1000.9 835.5,985.4 917.8,985.4" fill="none" stroke="#cc1a1f" stroke-width="3"/>
<polyline clip-path="url(#cd)" points="206.3,1348.9 259.8,1248.4 342,1139.5 424.3,1089.2 506.5,1042.8 588.8,1005.7 671,979.3 753.3,962.2 835.5,951.9 917.8,948.8" fill="none" stroke="#cc1a1f" stroke-width="3" stroke-dasharray="14 8"/>
<polyline clip-path="url(#cd)" points="202.2,1348.9 259.8,1243.9 342,1119.8 424.3,1060.9 506.5,1013.7 588.8,979.3 671,958.5 753.3,938.9 835.5,928 917.8,926.5" fill="none" stroke="#cc1a1f" stroke-width="3" stroke-dasharray="14 6 3 6"/>
<polyline clip-path="url(#cd)" points="187.4,1348.9 259.8,1235.2 342,1100.2 424.3,1035.9 506.5,987.5 588.8,951 671,931.6 753.3,917.7 835.5,908.7 917.8,908" fill="none" stroke="#cc1a1f" stroke-width="3" stroke-dasharray="12 5 3 5 3 5"/>
<polyline clip-path="url(#cd)" points="177.5,1281.4 259.8,1182.8 342,1076.3 424.3,1004.7 506.5,962.9 588.8,933.2 671,909.6 753.3,897.8 835.5,889.5 917.8,886.6" fill="none" stroke="#cc1a1f" stroke-width="3" stroke-dasharray="5 5"/>
<path d="M359.3 1166L401.1 1200.3M436 1078.5L489.9 1122M493.6 1020.4L564 1076.8M556.3 967.3L658.6 1048.5M634.7 919.4L767.4 1021.7" stroke="#000" stroke-width="3" fill="none"/>
<rect x="177.5" y="746.7" width="740.3" height="584.5" fill="none" stroke="#000" stroke-width="2.6"/>
<path d="M177.5 1331.2v-16M177.5 746.7v16M424.3 1331.2v-16M424.3 746.7v16M671 1331.2v-16M671 746.7v16M917.8 1331.2v-16M917.8 746.7v16M300.9 1331.2v-8.7M300.9 746.7v8.7M547.6 1331.2v-8.7M547.6 746.7v8.7M794.4 1331.2v-8.7M794.4 746.7v8.7M177.5 1331.2h16M917.8 1331.2h-16M177.5 1039h16M917.8 1039h-16M177.5 746.7h16M917.8 746.7h-16M177.5 1243.2h8.7M917.8 1243.2h-8.7M177.5 1191.8h8.7M917.8 1191.8h-8.7M177.5 1155.2h8.7M917.8 1155.2h-8.7M177.5 1126.9h8.7M917.8 1126.9h-8.7M177.5 1103.8h8.7M917.8 1103.8h-8.7M177.5 1084.2h8.7M917.8 1084.2h-8.7M177.5 1067.3h8.7M917.8 1067.3h-8.7M177.5 1052.3h8.7M917.8 1052.3h-8.7M177.5 951h8.7M917.8 951h-8.7M177.5 899.5h8.7M917.8 899.5h-8.7M177.5 863h8.7M917.8 863h-8.7M177.5 834.7h8.7M917.8 834.7h-8.7M177.5 811.5h8.7M917.8 811.5h-8.7M177.5 792h8.7M917.8 792h-8.7M177.5 775h8.7M917.8 775h-8.7M177.5 760.1h8.7M917.8 760.1h-8.7" stroke="#000" stroke-width="2.6" fill="none"/>
<text x="177.5" y="1386.5" font-family="'Liberation Serif','Times New Roman',serif" font-size="51" text-anchor="middle" font-weight="normal" font-style="normal" fill="#000" >0</text>
<text x="424.3" y="1386.5" font-family="'Liberation Serif','Times New Roman',serif" font-size="51" text-anchor="middle" font-weight="normal" font-style="normal" fill="#000" >30</text>
<text x="671" y="1386.5" font-family="'Liberation Serif','Times New Roman',serif" font-size="51" text-anchor="middle" font-weight="normal" font-style="normal" fill="#000" >60</text>
<text x="917.8" y="1386.5" font-family="'Liberation Serif','Times New Roman',serif" font-size="51" text-anchor="middle" font-weight="normal" font-style="normal" fill="#000" >90</text>
<text x="162.5" y="761.7" font-family="'Liberation Serif','Times New Roman',serif" font-size="51" text-anchor="end" font-weight="normal" font-style="normal" fill="#000" >10</text>
<text x="162.5" y="1054" font-family="'Liberation Serif','Times New Roman',serif" font-size="51" text-anchor="end" font-weight="normal" font-style="normal" fill="#000" >1</text>
<text x="162.5" y="1346.2" font-family="'Liberation Serif','Times New Roman',serif" font-size="51" text-anchor="end" font-weight="normal" font-style="normal" fill="#000" >0.1</text>
<text x="477.5" y="1155.7" font-family="'Liberation Serif','Times New Roman',serif" font-size="41" text-anchor="start" font-weight="normal" font-style="normal" fill="#000" textLength="52.5" lengthAdjust="spacingAndGlyphs">0.2</text>
<text x="564.2" y="1107.7" font-family="'Liberation Serif','Times New Roman',serif" font-size="41" text-anchor="start" font-weight="normal" font-style="normal" fill="#000" textLength="52.5" lengthAdjust="spacingAndGlyphs">0.4</text>
<text x="658.2" y="1076.1" font-family="'Liberation Serif','Times New Roman',serif" font-size="41" text-anchor="start" font-weight="normal" font-style="normal" fill="#000" textLength="52.5" lengthAdjust="spacingAndGlyphs">0.6</text>
<text x="776.8" y="1050.7" font-family="'Liberation Serif','Times New Roman',serif" font-size="41" text-anchor="start" font-weight="normal" font-style="normal" fill="#000" textLength="52.5" lengthAdjust="spacingAndGlyphs">0.8</text>
<text x="386" y="1234.5" font-family="'Liberation Serif','Times New Roman',serif" font-size="40" font-style="italic">p</text>
<text x="420.5" y="1234.5" font-family="'Liberation Serif','Times New Roman',serif" font-size="40" stroke="#000" stroke-width="0.9" textLength="27" lengthAdjust="spacingAndGlyphs">=</text>
<text x="463.5" y="1234.5" font-family="'Liberation Serif','Times New Roman',serif" font-size="40">0</text>
<text x="496" y="1234.5" font-family="'Liberation Sans',Arial,sans-serif" font-size="39" textLength="175" lengthAdjust="spacingAndGlyphs">(void-free)</text>
<text x="507.5" y="1428" font-size="46" font-family="'Liberation Serif','Times New Roman',serif"><tspan font-style="italic">α</tspan>(°)</text>
<text transform="translate(85.5,1067) rotate(-90)" font-size="46" font-family="'Liberation Serif','Times New Roman',serif"><tspan font-style="italic">G</tspan><tspan font-size="34" dy="9" dx="1">0(<tspan font-style="italic">b</tspan>)</tspan></text>
<polyline points="1128.5,1077.7 1210.7,1076.9 1292.9,1071.1 1375.2,1063.2 1457.4,1054.3 1539.6,1046.1 1621.8,1038.3 1704.1,1032.8 1786.3,1029.8 1868.5,1028.6" fill="none" stroke="#cc1a1f" stroke-width="3" stroke-linejoin="round"/>
<polyline points="1128.5,1059.1 1210.7,1056.5 1292.9,1050.1 1375.2,1042.8 1457.4,1034.6 1539.6,1026.3 1621.8,1019.1 1704.1,1013.3 1786.3,1009.7 1868.5,1007.8" fill="none" stroke="#cc1a1f" stroke-width="3" stroke-linejoin="round" stroke-dasharray="14 8"/>
<polyline points="1128.5,1030 1210.7,1028 1292.9,1022.4 1375.2,1015.4 1457.4,1007.3 1539.6,998.7 1621.8,990.3 1704.1,984 1786.3,980 1868.5,978.1" fill="none" stroke="#cc1a1f" stroke-width="3" stroke-linejoin="round" stroke-dasharray="14 6 3 6"/>
<polyline points="1128.5,986 1210.7,983.2 1292.9,976.8 1375.2,968.6 1457.4,960.2 1539.6,952.3 1621.8,944.9 1704.1,939 1786.3,935.1 1868.5,933.4" fill="none" stroke="#cc1a1f" stroke-width="3" stroke-linejoin="round" stroke-dasharray="12 5 3 5 3 5"/>
<polyline points="1128.5,908.1 1210.7,905.4 1292.9,899.4 1375.2,892.1 1457.4,884.4 1539.6,876.1 1621.8,868 1704.1,861.3 1786.3,857 1868.5,855.2" fill="none" stroke="#cc1a1f" stroke-width="3" stroke-linejoin="round" stroke-dasharray="5 5"/>
<path d="M1219.3 1076.3L1253.9 1144.8M1373.3 1042.1L1403.9 1104.6M1485.6 1001.3L1527.9 1088.3M1607.5 946.7L1668.5 1071.3M1689.7 860.3L1786.7 1059.1" stroke="#000" stroke-width="3" fill="none"/>
<rect x="1128.5" y="747.6" width="740" height="583.9" fill="none" stroke="#000" stroke-width="2.6"/>
<path d="M1128.5 1331.5v-16M1128.5 747.6v16M1375.2 1331.5v-16M1375.2 747.6v16M1621.8 1331.5v-16M1621.8 747.6v16M1868.5 1331.5v-16M1868.5 747.6v16M1251.8 1331.5v-8.7M1251.8 747.6v8.7M1498.5 1331.5v-8.7M1498.5 747.6v8.7M1745.2 1331.5v-8.7M1745.2 747.6v8.7M1128.5 1331.5h16M1868.5 1331.5h-16M1128.5 1039.5h16M1868.5 1039.5h-16M1128.5 747.6h16M1868.5 747.6h-16M1128.5 1243.6h8.7M1868.5 1243.6h-8.7M1128.5 1192.2h8.7M1868.5 1192.2h-8.7M1128.5 1155.7h8.7M1868.5 1155.7h-8.7M1128.5 1127.4h8.7M1868.5 1127.4h-8.7M1128.5 1104.3h8.7M1868.5 1104.3h-8.7M1128.5 1084.8h8.7M1868.5 1084.8h-8.7M1128.5 1067.8h8.7M1868.5 1067.8h-8.7M1128.5 1052.9h8.7M1868.5 1052.9h-8.7M1128.5 951.7h8.7M1868.5 951.7h-8.7M1128.5 900.3h8.7M1868.5 900.3h-8.7M1128.5 863.8h8.7M1868.5 863.8h-8.7M1128.5 835.5h8.7M1868.5 835.5h-8.7M1128.5 812.4h8.7M1868.5 812.4h-8.7M1128.5 792.8h8.7M1868.5 792.8h-8.7M1128.5 775.9h8.7M1868.5 775.9h-8.7M1128.5 761h8.7M1868.5 761h-8.7" stroke="#000" stroke-width="2.6" fill="none"/>
<text x="1128.5" y="1387.5" font-family="'Liberation Serif','Times New Roman',serif" font-size="51" text-anchor="middle" font-weight="normal" font-style="normal" fill="#000" >0</text>
<text x="1375.2" y="1387.5" font-family="'Liberation Serif','Times New Roman',serif" font-size="51" text-anchor="middle" font-weight="normal" font-style="normal" fill="#000" >30</text>
<text x="1621.8" y="1387.5" font-family="'Liberation Serif','Times New Roman',serif" font-size="51" text-anchor="middle" font-weight="normal" font-style="normal" fill="#000" >60</text>
<text x="1868.5" y="1387.5" font-family="'Liberation Serif','Times New Roman',serif" font-size="51" text-anchor="middle" font-weight="normal" font-style="normal" fill="#000" >90</text>
<text x="1113" y="762.6" font-family="'Liberation Serif','Times New Roman',serif" font-size="51" text-anchor="end" font-weight="normal" font-style="normal" fill="#000" >100</text>
<text x="1113" y="1054.5" font-family="'Liberation Serif','Times New Roman',serif" font-size="51" text-anchor="end" font-weight="normal" font-style="normal" fill="#000" >10</text>
<text x="1113" y="1346.5" font-family="'Liberation Serif','Times New Roman',serif" font-size="51" text-anchor="end" font-weight="normal" font-style="normal" fill="#000" >1</text>
<text x="1375.3" y="1144" font-family="'Liberation Serif','Times New Roman',serif" font-size="41" text-anchor="start" font-weight="normal" font-style="normal" fill="#000" textLength="52.5" lengthAdjust="spacingAndGlyphs">0.2</text>
<text x="1498.3" y="1124.3" font-family="'Liberation Serif','Times New Roman',serif" font-size="41" text-anchor="start" font-weight="normal" font-style="normal" fill="#000" textLength="52.5" lengthAdjust="spacingAndGlyphs">0.4</text>
<text x="1644.1" y="1105.2" font-family="'Liberation Serif','Times New Roman',serif" font-size="41" text-anchor="start" font-weight="normal" font-style="normal" fill="#000" textLength="52.5" lengthAdjust="spacingAndGlyphs">0.6</text>
<text x="1778.3" y="1096.2" font-family="'Liberation Serif','Times New Roman',serif" font-size="41" text-anchor="start" font-weight="normal" font-style="normal" fill="#000" textLength="52.5" lengthAdjust="spacingAndGlyphs">0.8</text>
<text x="1191.5" y="1182" font-family="'Liberation Serif','Times New Roman',serif" font-size="40" font-style="italic">p</text>
<text x="1226" y="1182" font-family="'Liberation Serif','Times New Roman',serif" font-size="40" stroke="#000" stroke-width="0.9" textLength="27" lengthAdjust="spacingAndGlyphs">=</text>
<text x="1269" y="1182" font-family="'Liberation Serif','Times New Roman',serif" font-size="40">0</text>
<text x="1301.5" y="1182" font-family="'Liberation Sans',Arial,sans-serif" font-size="39" textLength="175" lengthAdjust="spacingAndGlyphs">(void-free)</text>
<text x="1450" y="1428" font-size="46" font-family="'Liberation Serif','Times New Roman',serif"><tspan font-style="italic">α</tspan>(°)</text>
<text transform="translate(1029.5,1067) rotate(-90)" font-size="46" font-family="'Liberation Serif','Times New Roman',serif"><tspan font-style="italic">G</tspan><tspan font-size="34" dy="9" dx="1">1(<tspan font-style="italic">b</tspan>)</tspan></text>
<polyline points="173.1,2082.4 180.6,2078.2 188.1,2074 195.6,2069.8 203,2065.7 210.5,2061.6 218,2057.5 225.5,2053.5 233,2049.5 240.5,2045.5 247.9,2041.6 255.4,2037.7 262.9,2033.8 270.4,2030 277.9,2026.1 285.4,2022.4 292.8,2018.6 300.3,2014.9 307.8,2011.2 315.3,2007.5 322.8,2003.8 330.3,2000.2 337.7,1996.6 345.2,1993 352.7,1989.4 360.2,1985.9 367.7,1982.4 375.2,1978.9 382.7,1975.4 390.1,1971.9 397.6,1968.5 405.1,1965.1 412.6,1961.7 420.1,1958.3 427.6,1954.9 435,1951.6 442.5,1948.2 450,1944.9 457.5,1941.6 465,1938.3 472.5,1935 479.9,1931.7 487.4,1928.4 494.9,1925.2 502.4,1921.9 509.9,1918.7 517.4,1915.5 524.8,1912.2 532.3,1909 539.8,1905.8 547.3,1902.6 554.8,1899.4 562.3,1896.2 569.8,1893 577.2,1889.7 584.7,1886.5 592.2,1883.3 599.7,1880.1 607.2,1876.8 614.7,1873.6 622.1,1870.3 629.6,1867 637.1,1863.7 644.6,1860.4 652.1,1857.1 659.6,1853.7 667,1850.3 674.5,1846.9 682,1843.4 689.5,1839.9 697,1836.3 704.5,1832.7 711.9,1829 719.4,1825.2 726.9,1821.4 734.4,1817.4 741.9,1813.3 749.4,1809.2 756.9,1804.8 764.3,1800.3 771.8,1795.7 779.3,1790.8 786.8,1785.6 794.3,1780.2 801.8,1774.4 809.2,1768.1 816.7,1761.4 824.2,1754 831.7,1745.9 839.2,1736.9 846.7,1726.6 854.1,1714.7 861.6,1700.8" fill="none" stroke="#cc1a1f" stroke-width="3.2"/>
<path d="M240.7 2039.7L255.1 2054.1M240.7 2054.1L255.1 2039.7M240.7 2038.5L255.1 2052.9M240.7 2052.9L255.1 2038.5M240.7 2037.3L255.1 2051.7M240.7 2051.7L255.1 2037.3M240.7 2040.4L255.1 2054.8M240.7 2054.8L255.1 2040.4M315.6 1997.3L330 2011.7M315.6 2011.7L330 1997.3M315.6 2004L330 2018.4M315.6 2018.4L330 2004M315.6 2009L330 2023.4M315.6 2023.4L330 2009M315.6 2012.7L330 2027.1M315.6 2027.1L330 2012.7M315.6 2021.6L330 2036M315.6 2036L330 2021.6M315.6 2026.2L330 2040.6M315.6 2040.6L330 2026.2M315.6 2031.9L330 2046.3M315.6 2046.3L330 2031.9M390.4 1957.2L404.8 1971.6M390.4 1971.6L404.8 1957.2M390.4 1972.7L404.8 1987.1M390.4 1987.1L404.8 1972.7M390.4 1976L404.8 1990.4M390.4 1990.4L404.8 1976M390.4 1980.5L404.8 1994.9M390.4 1994.9L404.8 1980.5M390.4 1986.3L404.8 2000.7M390.4 2000.7L404.8 1986.3M390.4 1994L404.8 2008.4M390.4 2008.4L404.8 1994M390.4 1997.5L404.8 2011.9M390.4 2011.9L404.8 1997.5M465.3 1925.8L479.7 1940.2M465.3 1940.2L479.7 1925.8M465.3 1935.8L479.7 1950.2M465.3 1950.2L479.7 1935.8M465.3 1940.4L479.7 1954.8M465.3 1954.8L479.7 1940.4M465.3 1944.8L479.7 1959.2M465.3 1959.2L479.7 1944.8M465.3 1949.2L479.7 1963.6M465.3 1963.6L479.7 1949.2M465.3 1952.4L479.7 1966.8M465.3 1966.8L479.7 1952.4M540.1 1885.7L554.5 1900.1M540.1 1900.1L554.5 1885.7M540.1 1896.8L554.5 1911.2M540.1 1911.2L554.5 1896.8M540.1 1903.3L554.5 1917.7M540.1 1917.7L554.5 1903.3M540.1 1909L554.5 1923.4M540.1 1923.4L554.5 1909M540.1 1914.2L554.5 1928.6M540.1 1928.6L554.5 1914.2M540.1 1920.1L554.5 1934.5M540.1 1934.5L554.5 1920.1M614.9 1851.6L629.3 1866M614.9 1866L629.3 1851.6M614.9 1856.9L629.3 1871.3M614.9 1871.3L629.3 1856.9M614.9 1864.9L629.3 1879.3M614.9 1879.3L629.3 1864.9M614.9 1875.5L629.3 1889.9M614.9 1889.9L629.3 1875.5M614.9 1891.2L629.3 1905.6M614.9 1905.6L629.3 1891.2M689.8 1814.5L704.2 1828.9M689.8 1828.9L704.2 1814.5M689.8 1820L704.2 1834.4M689.8 1834.4L704.2 1820M689.8 1833.1L704.2 1847.5M689.8 1847.5L704.2 1833.1M689.8 1840.9L704.2 1855.3M689.8 1855.3L704.2 1840.9M764.6 1758.9L779 1773.3M764.6 1773.3L779 1758.9M764.6 1766.4L779 1780.8M764.6 1780.8L779 1766.4M764.6 1774.8L779 1789.2M764.6 1789.2L779 1774.8M764.6 1782.6L779 1797M764.6 1797L779 1782.6M764.6 1799.2L779 1813.6M764.6 1813.6L779 1799.2M764.6 1809.6L779 1824M764.6 1824L779 1809.6M839.5 1645.6L853.9 1660M839.5 1660L853.9 1645.6M839.5 1661.4L853.9 1675.8M839.5 1675.8L853.9 1661.4M839.5 1684.6L853.9 1699M839.5 1699L853.9 1684.6M839.5 1695.3L853.9 1709.7M839.5 1709.7L853.9 1695.3M839.5 1709.7L853.9 1724.1M839.5 1724.1L853.9 1709.7M839.5 1739.4L853.9 1753.8M839.5 1753.8L853.9 1739.4" stroke="#000" stroke-width="1.6" fill="none"/>
<rect x="173.1" y="1491.7" width="748.4" height="590.7" fill="none" stroke="#000" stroke-width="2.6"/>
<path d="M173.1 2082.4v-16M173.1 1491.7v16M322.8 2082.4v-16M322.8 1491.7v16M472.5 2082.4v-16M472.5 1491.7v16M622.1 2082.4v-16M622.1 1491.7v16M771.8 2082.4v-16M771.8 1491.7v16M921.5 2082.4v-16M921.5 1491.7v16M247.9 2082.4v-8.7M247.9 1491.7v8.7M397.6 2082.4v-8.7M397.6 1491.7v8.7M547.3 2082.4v-8.7M547.3 1491.7v8.7M697 2082.4v-8.7M697 1491.7v8.7M846.7 2082.4v-8.7M846.7 1491.7v8.7M173.1 2082.4h16M921.5 2082.4h-16M173.1 1787.1h16M921.5 1787.1h-16M173.1 1491.7h16M921.5 1491.7h-16M173.1 2037.5h8.7M921.5 2037.5h-8.7M173.1 1996.9h8.7M921.5 1996.9h-8.7M173.1 1959.8h8.7M921.5 1959.8h-8.7M173.1 1925.7h8.7M921.5 1925.7h-8.7M173.1 1894.1h8.7M921.5 1894.1h-8.7M173.1 1864.7h8.7M921.5 1864.7h-8.7M173.1 1837.2h8.7M921.5 1837.2h-8.7M173.1 1811.4h8.7M921.5 1811.4h-8.7M173.1 1742.2h8.7M921.5 1742.2h-8.7M173.1 1701.5h8.7M921.5 1701.5h-8.7M173.1 1664.5h8.7M921.5 1664.5h-8.7M173.1 1630.4h8.7M921.5 1630.4h-8.7M173.1 1598.8h8.7M921.5 1598.8h-8.7M173.1 1569.4h8.7M921.5 1569.4h-8.7M173.1 1541.9h8.7M921.5 1541.9h-8.7M173.1 1516.1h8.7M921.5 1516.1h-8.7" stroke="#000" stroke-width="2.6" fill="none"/>
<text x="173.1" y="2138" font-family="'Liberation Serif','Times New Roman',serif" font-size="51" text-anchor="middle" font-weight="normal" font-style="normal" fill="#000" >0.0</text>
<text x="322.8" y="2138" font-family="'Liberation Serif','Times New Roman',serif" font-size="51" text-anchor="middle" font-weight="normal" font-style="normal" fill="#000" >0.2</text>
<text x="472.5" y="2138" font-family="'Liberation Serif','Times New Roman',serif" font-size="51" text-anchor="middle" font-weight="normal" font-style="normal" fill="#000" >0.4</text>
<text x="622.1" y="2138" font-family="'Liberation Serif','Times New Roman',serif" font-size="51" text-anchor="middle" font-weight="normal" font-style="normal" fill="#000" >0.6</text>
<text x="771.8" y="2138" font-family="'Liberation Serif','Times New Roman',serif" font-size="51" text-anchor="middle" font-weight="normal" font-style="normal" fill="#000" >0.8</text>
<text x="921.5" y="2138" font-family="'Liberation Serif','Times New Roman',serif" font-size="51" text-anchor="middle" font-weight="normal" font-style="normal" fill="#000" >1.0</text>
<text x="156" y="1506.7" font-family="'Liberation Serif','Times New Roman',serif" font-size="51" text-anchor="end" font-weight="normal" font-style="normal" fill="#000" >4</text>
<text x="156" y="1802" font-family="'Liberation Serif','Times New Roman',serif" font-size="51" text-anchor="end" font-weight="normal" font-style="normal" fill="#000" >2</text>
<text x="156" y="2097.4" font-family="'Liberation Serif','Times New Roman',serif" font-size="51" text-anchor="end" font-weight="normal" font-style="normal" fill="#000" >1</text>
<path d="M741.2 1941.7L754.8 1955.3M741.2 1955.3L754.8 1941.7" stroke="#000" stroke-width="1.3"/>
<line x1="716.2" y1="1998.4" x2="787.6" y2="1998.4" stroke="#cc1a1f" stroke-width="3"/>
<text x="807" y="1960.2" font-family="'Liberation Sans',Arial,sans-serif" font-size="29" text-anchor="start" font-weight="normal" font-style="normal" fill="#000" textLength="52.5" lengthAdjust="spacingAndGlyphs">CFD</text>
<text x="806.5" y="2008.2" font-family="'Liberation Sans',Arial,sans-serif" font-size="30" text-anchor="start" font-weight="normal" font-style="normal" fill="#000" textLength="79" lengthAdjust="spacingAndGlyphs">fitting</text>
<text x="535" y="2166.5" font-size="45" font-family="'Liberation Serif','Times New Roman',serif" font-style="italic">p</text>
<polyline points="1128.4,2075.7 1132.1,2074.7 1135.8,2073.7 1139.5,2072.7 1143.2,2071.7 1146.9,2070.7 1150.6,2069.7 1154.3,2068.7 1158,2067.6 1161.7,2066.6 1165.4,2065.5 1169.1,2064.5 1172.8,2063.4 1176.5,2062.3 1180.2,2061.3 1183.9,2060.2 1187.6,2059.1 1191.3,2058 1195,2056.9 1198.7,2055.8 1202.4,2054.7 1206.1,2053.5 1209.8,2052.4 1213.5,2051.2 1217.2,2050.1 1220.9,2048.9 1224.6,2047.7 1228.3,2046.6 1232,2045.4 1235.7,2044.2 1239.4,2043 1243.1,2041.8 1246.8,2040.5 1250.5,2039.3 1254.2,2038.1 1257.9,2036.8 1261.6,2035.5 1265.3,2034.3 1269,2033 1272.7,2031.7 1276.4,2030.4 1280.1,2029.1 1283.8,2027.7 1287.5,2026.4 1291.2,2025.1 1294.9,2023.7 1298.6,2022.3 1302.3,2021 1306,2019.6 1309.7,2018.2 1313.4,2016.8 1317.1,2015.3 1320.8,2013.9 1324.5,2012.5 1328.2,2011 1331.9,2009.5 1335.6,2008 1339.3,2006.6 1343,2005 1346.7,2003.5 1350.4,2002 1354.1,2000.4 1357.8,1998.9 1361.5,1997.3 1365.2,1995.7 1368.9,1994.1 1372.6,1992.5 1376.3,1990.8 1380,1989.2 1383.7,1987.5 1387.4,1985.8 1391.1,1984.1 1394.8,1982.4 1398.5,1980.7 1402.2,1978.9 1405.9,1977.2 1409.6,1975.4 1413.3,1973.6 1417,1971.8 1420.7,1969.9 1424.4,1968.1 1428.1,1966.2 1431.8,1964.3 1435.5,1962.4 1439.2,1960.5 1442.9,1958.5 1446.6,1956.6 1450.3,1954.6 1454,1952.6 1457.7,1950.5 1461.4,1948.5 1465.1,1946.4 1468.8,1944.3 1472.5,1942.2 1476.2,1940 1479.9,1937.8 1483.6,1935.6 1487.3,1933.4 1491,1931.2 1494.7,1928.9 1498.4,1926.6 1502.1,1924.3 1505.8,1921.9 1509.5,1919.5 1513.2,1917.1 1516.9,1914.7 1520.6,1912.2 1524.3,1909.7 1528,1907.2 1531.7,1904.6 1535.4,1902 1539.1,1899.4 1542.8,1896.7 1546.5,1894 1550.2,1891.2 1553.9,1888.5 1557.6,1885.7 1561.3,1882.8 1565,1879.9 1568.7,1877 1572.4,1874 1576.1,1871 1579.8,1867.9 1583.5,1864.8 1587.2,1861.6 1590.9,1858.4 1594.6,1855.2 1598.3,1851.9 1602,1848.5 1605.7,1845.1 1609.4,1841.7 1613.1,1838.1 1616.8,1834.6 1620.5,1830.9 1624.2,1827.2 1627.9,1823.5 1631.6,1819.6 1635.3,1815.7 1639,1811.8 1642.7,1807.7 1646.4,1803.6 1650.1,1799.4 1653.8,1795.2 1657.5,1790.8 1661.2,1786.4 1664.9,1781.9 1668.6,1777.2 1672.3,1772.5 1676,1767.7 1679.7,1762.8 1683.4,1757.8 1687.1,1752.7 1690.8,1747.4 1694.5,1742 1698.2,1736.5 1701.9,1730.9 1705.6,1725.2 1709.3,1719.2 1713,1713.2 1716.7,1707 1720.4,1700.6 1724.1,1694 1727.8,1687.3 1731.5,1680.3 1735.2,1673.2 1738.9,1665.8 1742.6,1658.3 1746.3,1650.4 1750,1642.4 1753.7,1634 1757.4,1625.3 1761.1,1616.4 1764.8,1607.1 1768.5,1597.4 1772.2,1587.4 1775.9,1577 1779.6,1566.1 1783.3,1554.7 1787,1542.8 1790.7,1530.3 1794.4,1517.1 1798.1,1503.3 1801.1,1491.4" fill="none" stroke="#cc1a1f" stroke-width="3.2"/>
<path d="M1195.2 2044.3L1209.6 2058.7M1195.2 2058.7L1209.6 2044.3M1269.2 2022L1283.6 2036.4M1269.2 2036.4L1283.6 2022M1269.2 2020.8L1283.6 2035.2M1269.2 2035.2L1283.6 2020.8M1343.2 1992.6L1357.6 2007M1343.2 2007L1357.6 1992.6M1343.2 1994.8L1357.6 2009.2M1343.2 2009.2L1357.6 1994.8M1417.2 1960.2L1431.6 1974.6M1417.2 1974.6L1431.6 1960.2M1417.2 1956.4L1431.6 1970.8M1417.2 1970.8L1431.6 1956.4M1417.2 1958.3L1431.6 1972.7M1417.2 1972.7L1431.6 1958.3M1491.2 1916.1L1505.6 1930.5M1491.2 1930.5L1505.6 1916.1M1491.2 1912.9L1505.6 1927.3M1491.2 1927.3L1505.6 1912.9M1491.2 1919.4L1505.6 1933.8M1491.2 1933.8L1505.6 1919.4M1565.2 1860L1579.6 1874.4M1565.2 1874.4L1579.6 1860M1565.2 1856L1579.6 1870.4M1565.2 1870.4L1579.6 1856M1565.2 1862.7L1579.6 1877.1M1565.2 1877.1L1579.6 1862.7M1639.2 1789.4L1653.6 1803.8M1639.2 1803.8L1653.6 1789.4M1639.2 1785.3L1653.6 1799.7M1639.2 1799.7L1653.6 1785.3M1639.2 1793.6L1653.6 1808M1639.2 1808L1653.6 1793.6M1713.2 1687.5L1727.6 1701.9M1713.2 1701.9L1727.6 1687.5M1713.2 1682.5L1727.6 1696.9M1713.2 1696.9L1727.6 1682.5M1713.2 1689.7L1727.6 1704.1M1713.2 1704.1L1727.6 1689.7M1787.2 1511.9L1801.6 1526.3M1787.2 1526.3L1801.6 1511.9M1787.2 1506.1L1801.6 1520.5M1787.2 1520.5L1801.6 1506.1M1787.2 1517.7L1801.6 1532.1M1787.2 1532.1L1801.6 1517.7" stroke="#000" stroke-width="1.6" fill="none"/>
<rect x="1128.4" y="1491.4" width="740" height="584.3" fill="none" stroke="#000" stroke-width="2.6"/>
<path d="M1128.4 2075.7v-16M1128.4 1491.4v16M1276.4 2075.7v-16M1276.4 1491.4v16M1424.4 2075.7v-16M1424.4 1491.4v16M1572.4 2075.7v-16M1572.4 1491.4v16M1720.4 2075.7v-16M1720.4 1491.4v16M1868.4 2075.7v-16M1868.4 1491.4v16M1202.4 2075.7v-8.7M1202.4 1491.4v8.7M1350.4 2075.7v-8.7M1350.4 1491.4v8.7M1498.4 2075.7v-8.7M1498.4 1491.4v8.7M1646.4 2075.7v-8.7M1646.4 1491.4v8.7M1794.4 2075.7v-8.7M1794.4 1491.4v8.7M1128.4 2075.7h16M1868.4 2075.7h-16M1128.4 1880.9h16M1868.4 1880.9h-16M1128.4 1686.2h16M1868.4 1686.2h-16M1128.4 1491.4h16M1868.4 1491.4h-16M1128.4 2046.1h8.7M1868.4 2046.1h-8.7M1128.4 2019.3h8.7M1868.4 2019.3h-8.7M1128.4 1994.9h8.7M1868.4 1994.9h-8.7M1128.4 1972.4h8.7M1868.4 1972.4h-8.7M1128.4 1951.5h8.7M1868.4 1951.5h-8.7M1128.4 1932.2h8.7M1868.4 1932.2h-8.7M1128.4 1914h8.7M1868.4 1914h-8.7M1128.4 1897h8.7M1868.4 1897h-8.7M1128.4 1851.3h8.7M1868.4 1851.3h-8.7M1128.4 1824.5h8.7M1868.4 1824.5h-8.7M1128.4 1800.1h8.7M1868.4 1800.1h-8.7M1128.4 1777.6h8.7M1868.4 1777.6h-8.7M1128.4 1756.8h8.7M1868.4 1756.8h-8.7M1128.4 1737.4h8.7M1868.4 1737.4h-8.7M1128.4 1719.3h8.7M1868.4 1719.3h-8.7M1128.4 1702.2h8.7M1868.4 1702.2h-8.7M1128.4 1656.6h8.7M1868.4 1656.6h-8.7M1128.4 1629.8h8.7M1868.4 1629.8h-8.7M1128.4 1605.3h8.7M1868.4 1605.3h-8.7M1128.4 1582.8h8.7M1868.4 1582.8h-8.7M1128.4 1562h8.7M1868.4 1562h-8.7M1128.4 1542.6h8.7M1868.4 1542.6h-8.7M1128.4 1524.5h8.7M1868.4 1524.5h-8.7M1128.4 1507.5h8.7M1868.4 1507.5h-8.7" stroke="#000" stroke-width="2.6" fill="none"/>
<text x="1128.4" y="2131" font-family="'Liberation Serif','Times New Roman',serif" font-size="51" text-anchor="middle" font-weight="normal" font-style="normal" fill="#000" >0.0</text>
<text x="1276.4" y="2131" font-family="'Liberation Serif','Times New Roman',serif" font-size="51" text-anchor="middle" font-weight="normal" font-style="normal" fill="#000" >0.2</text>
<text x="1424.4" y="2131" font-family="'Liberation Serif','Times New Roman',serif" font-size="51" text-anchor="middle" font-weight="normal" font-style="normal" fill="#000" >0.4</text>
<text x="1572.4" y="2131" font-family="'Liberation Serif','Times New Roman',serif" font-size="51" text-anchor="middle" font-weight="normal" font-style="normal" fill="#000" >0.6</text>
<text x="1720.4" y="2131" font-family="'Liberation Serif','Times New Roman',serif" font-size="51" text-anchor="middle" font-weight="normal" font-style="normal" fill="#000" >0.8</text>
<text x="1868.4" y="2131" font-family="'Liberation Serif','Times New Roman',serif" font-size="51" text-anchor="middle" font-weight="normal" font-style="normal" fill="#000" >1.0</text>
<text x="1112" y="1506.4" font-family="'Liberation Serif','Times New Roman',serif" font-size="51" text-anchor="end" font-weight="normal" font-style="normal" fill="#000" >8</text>
<text x="1112" y="1701.2" font-family="'Liberation Serif','Times New Roman',serif" font-size="51" text-anchor="end" font-weight="normal" font-style="normal" fill="#000" >4</text>
<text x="1112" y="1895.9" font-family="'Liberation Serif','Times New Roman',serif" font-size="51" text-anchor="end" font-weight="normal" font-style="normal" fill="#000" >2</text>
<text x="1112" y="2090.7" font-family="'Liberation Serif','Times New Roman',serif" font-size="51" text-anchor="end" font-weight="normal" font-style="normal" fill="#000" >1</text>
<path d="M1648.7 1941.7L1662.3 1955.3M1648.7 1955.3L1662.3 1941.7" stroke="#000" stroke-width="1.3"/>
<line x1="1620.7" y1="1998.4" x2="1691.3" y2="1998.4" stroke="#cc1a1f" stroke-width="3"/>
<text x="1718.3" y="1960.2" font-family="'Liberation Sans',Arial,sans-serif" font-size="29" text-anchor="start" font-weight="normal" font-style="normal" fill="#000" textLength="52.5" lengthAdjust="spacingAndGlyphs">CFD</text>
<text x="1717.8" y="2008.2" font-family="'Liberation Sans',Arial,sans-serif" font-size="30" text-anchor="start" font-weight="normal" font-style="normal" fill="#000" textLength="79" lengthAdjust="spacingAndGlyphs">fitting</text>
<text x="1490.5" y="2166.5" font-size="45" font-family="'Liberation Serif','Times New Roman',serif" font-style="italic">p</text>
<text x="304.1" y="1623.0" font-family="'Liberation Serif','Times New Roman',serif" font-size="42" font-style="italic">G</text><text x="331.0" y="1632.0" font-family="'Liberation Serif','Times New Roman',serif" font-size="30" textLength="62.6" lengthAdjust="spacingAndGlyphs">0(<tspan font-style="italic">b</tspan>)</text><text x="401.0" y="1623.0" font-family="'Liberation Serif','Times New Roman',serif" font-size="40" textLength="53.6" lengthAdjust="spacingAndGlyphs">(<tspan font-style="italic">p</tspan>)</text>
<text x="262.0" y="1683.0" font-family="'Liberation Serif','Times New Roman',serif" font-size="42" font-style="italic">G</text><text x="290.6" y="1692.0" font-family="'Liberation Serif','Times New Roman',serif" font-size="30" textLength="61.0" lengthAdjust="spacingAndGlyphs">0(<tspan font-style="italic">b</tspan>)</text><text x="357.4" y="1683.0" font-family="'Liberation Serif','Times New Roman',serif" font-size="40" textLength="139.3" lengthAdjust="spacingAndGlyphs">(<tspan font-style="italic">p</tspan> = 0)</text>
<path d="M261.6 1642.7H499M556.2 1642.7H760.7" stroke="#000" stroke-width="2.8"/>
<text x="512.6" y="1653.0" font-family="'Liberation Serif','Times New Roman',serif" font-size="40" textLength="27.6" lengthAdjust="spacingAndGlyphs">≈</text>
<text x="557" y="1622" font-family="'Liberation Serif','Times New Roman',serif" font-size="40" textLength="154.4" lengthAdjust="spacingAndGlyphs">1 − 0.95</text>
<text x="711.5" y="1622.0" font-family="'Liberation Serif','Times New Roman',serif" font-size="40" font-style="italic">p</text>
<text x="740.0" y="1606.0" font-family="'Liberation Serif','Times New Roman',serif" font-size="26">2</text>
<text x="609" y="1684.5" font-family="'Liberation Serif','Times New Roman',serif" font-size="40" textLength="63" lengthAdjust="spacingAndGlyphs">1 −</text>
<text x="681.0" y="1684.5" font-family="'Liberation Serif','Times New Roman',serif" font-size="40" font-style="italic">p</text>
<g transform="translate(33.5,1844.6) rotate(-90)"><text x="-1.0" y="0.0" font-family="'Liberation Serif','Times New Roman',serif" font-size="42" font-style="italic">G</text><text x="25.9" y="9.0" font-family="'Liberation Serif','Times New Roman',serif" font-size="30" textLength="62.6" lengthAdjust="spacingAndGlyphs">0(<tspan font-style="italic">b</tspan>)</text><text x="95.9" y="0.0" font-family="'Liberation Serif','Times New Roman',serif" font-size="40" textLength="53.6" lengthAdjust="spacingAndGlyphs">(<tspan font-style="italic">p</tspan>)</text></g>
<g transform="translate(96,1887) rotate(-90)"><text x="-1.0" y="0.0" font-family="'Liberation Serif','Times New Roman',serif" font-size="42" font-style="italic">G</text><text x="27.6" y="9.0" font-family="'Liberation Serif','Times New Roman',serif" font-size="30" textLength="61.0" lengthAdjust="spacingAndGlyphs">0(<tspan font-style="italic">b</tspan>)</text><text x="94.4" y="0.0" font-family="'Liberation Serif','Times New Roman',serif" font-size="40" textLength="139.3" lengthAdjust="spacingAndGlyphs">(<tspan font-style="italic">p</tspan> = 0)</text></g>
<path d="M54.2 1652V1888.4" stroke="#000" stroke-width="2.6"/>
<text x="1285.3" y="1618.8" font-family="'Liberation Serif','Times New Roman',serif" font-size="42" font-style="italic">G</text><text x="1312.2" y="1627.8" font-family="'Liberation Serif','Times New Roman',serif" font-size="30" textLength="62.6" lengthAdjust="spacingAndGlyphs">1(<tspan font-style="italic">b</tspan>)</text><text x="1382.2" y="1618.8" font-family="'Liberation Serif','Times New Roman',serif" font-size="40" textLength="53.6" lengthAdjust="spacingAndGlyphs">(<tspan font-style="italic">p</tspan>)</text>
<text x="1245.0" y="1681.8" font-family="'Liberation Serif','Times New Roman',serif" font-size="42" font-style="italic">G</text><text x="1273.6" y="1690.8" font-family="'Liberation Serif','Times New Roman',serif" font-size="30" textLength="61.0" lengthAdjust="spacingAndGlyphs">1(<tspan font-style="italic">b</tspan>)</text><text x="1340.4" y="1681.8" font-family="'Liberation Serif','Times New Roman',serif" font-size="40" textLength="139.3" lengthAdjust="spacingAndGlyphs">(<tspan font-style="italic">p</tspan> = 0)</text>
<path d="M1242 1640.8H1477.8M1535.4 1640.8H1694.8" stroke="#000" stroke-width="2.8"/>
<text x="1493.9" y="1651.0" font-family="'Liberation Serif','Times New Roman',serif" font-size="40" textLength="25.4" lengthAdjust="spacingAndGlyphs">≈</text>
<text x="1537.5" y="1618.8" font-family="'Liberation Serif','Times New Roman',serif" font-size="40" textLength="128" lengthAdjust="spacingAndGlyphs">1 − 0.3</text>
<text x="1665.0" y="1618.8" font-family="'Liberation Serif','Times New Roman',serif" font-size="40" font-style="italic">p</text>
<text x="1567" y="1681.8" font-family="'Liberation Serif','Times New Roman',serif" font-size="40" textLength="63" lengthAdjust="spacingAndGlyphs">1 −</text>
<text x="1639.0" y="1681.8" font-family="'Liberation Serif','Times New Roman',serif" font-size="40" font-style="italic">p</text>
<g transform="translate(990,1845.3) rotate(-90)"><text x="-1.0" y="0.0" font-family="'Liberation Serif','Times New Roman',serif" font-size="42" font-style="italic">G</text><text x="25.9" y="9.0" font-family="'Liberation Serif','Times New Roman',serif" font-size="30" textLength="62.6" lengthAdjust="spacingAndGlyphs">1(<tspan font-style="italic">b</tspan>)</text><text x="95.9" y="0.0" font-family="'Liberation Serif','Times New Roman',serif" font-size="40" textLength="53.6" lengthAdjust="spacingAndGlyphs">(<tspan font-style="italic">p</tspan>)</text></g>
<g transform="translate(1053,1887.7) rotate(-90)"><text x="-1.0" y="0.0" font-family="'Liberation Serif','Times New Roman',serif" font-size="42" font-style="italic">G</text><text x="27.6" y="9.0" font-family="'Liberation Serif','Times New Roman',serif" font-size="30" textLength="61.0" lengthAdjust="spacingAndGlyphs">1(<tspan font-style="italic">b</tspan>)</text><text x="94.4" y="0.0" font-family="'Liberation Serif','Times New Roman',serif" font-size="40" textLength="139.3" lengthAdjust="spacingAndGlyphs">(<tspan font-style="italic">p</tspan> = 0)</text></g>
<path d="M1011.5 1652V1888.4" stroke="#000" stroke-width="2.6"/>
<text x="40.5" y="718.5" font-family="'Liberation Sans',Arial,sans-serif" font-size="50" text-anchor="start" font-weight="bold" font-style="normal" fill="#000" >d</text>
<text x="966" y="718.5" font-family="'Liberation Sans',Arial,sans-serif" font-size="50" text-anchor="start" font-weight="bold" font-style="normal" fill="#000" >e</text>
<text x="40.5" y="1486" font-family="'Liberation Sans',Arial,sans-serif" font-size="51" text-anchor="start" font-weight="bold" font-style="normal" fill="#000" >f</text>
<text x="966.5" y="1486" font-family="'Liberation Sans',Arial,sans-serif" font-size="51" text-anchor="start" font-weight="bold" font-style="normal" fill="#000" >g</text>
<text x="39.5" y="65.5" font-family="'Liberation Sans',Arial,sans-serif" font-size="52" text-anchor="start" font-weight="bold" font-style="normal" fill="#000" >a</text>
<text x="851.5" y="65.7" font-family="'Liberation Sans',Arial,sans-serif" font-size="50" text-anchor="start" font-weight="bold" font-style="normal" fill="#000" >b</text>
</svg></body></html>
